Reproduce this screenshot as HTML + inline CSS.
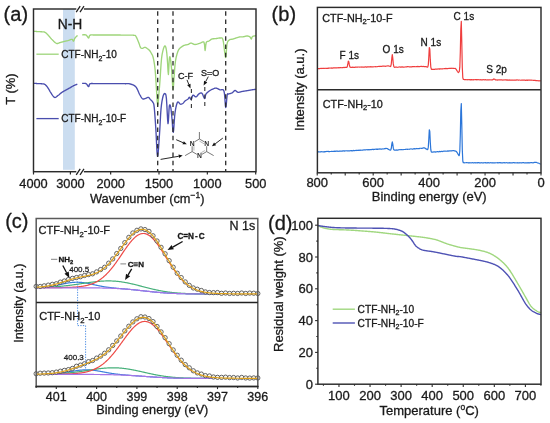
<!DOCTYPE html>
<html><head><meta charset="utf-8"><style>
html,body{margin:0;padding:0;background:#fff;overflow:hidden;}
svg{display:block;will-change:transform;}
text{font-family:"Liberation Sans", sans-serif;stroke:#1a1a1a;stroke-width:0.3px;}
</style></head><body>
<svg width="550" height="423" viewBox="0 0 550 423">
<rect width="550" height="423" fill="#fff"/>
<rect x="63" y="9.0" width="11.8" height="160.8" fill="#cbddf0"/>
<path d="M33.60 31.30 L33.84 31.32 L34.14 31.34 L34.49 31.36 L34.89 31.39 L35.33 31.42 L35.78 31.45 L36.24 31.49 L36.71 31.52 L37.16 31.55 L37.60 31.58 L38.00 31.60 L38.38 31.62 L38.77 31.64 L39.15 31.65 L39.53 31.67 L39.90 31.68 L40.27 31.69 L40.64 31.71 L40.99 31.73 L41.34 31.75 L41.68 31.77 L42.00 31.80 L42.42 31.83 L42.82 31.85 L43.20 31.87 L43.56 31.89 L43.92 31.94 L44.27 32.01 L44.63 32.13 L45.00 32.30 L45.37 32.52 L45.73 32.78 L46.08 33.07 L46.44 33.40 L46.80 33.76 L47.18 34.15 L47.58 34.56 L48.00 35.00 L48.32 35.34 L48.66 35.72 L49.01 36.11 L49.36 36.53 L49.72 36.96 L50.09 37.39 L50.47 37.83 L50.85 38.27 L51.23 38.69 L51.61 39.11 L52.00 39.50 L52.36 39.86 L52.73 40.24 L53.11 40.63 L53.50 41.02 L53.89 41.41 L54.28 41.78 L54.67 42.14 L55.06 42.47 L55.43 42.77 L55.80 43.03 L56.16 43.24 L56.50 43.40 L56.93 43.52 L57.34 43.54 L57.72 43.49 L58.10 43.38 L58.47 43.23 L58.83 43.06 L59.21 42.89 L59.59 42.73 L60.00 42.60 L60.34 42.51 L60.70 42.42 L61.05 42.32 L61.42 42.21 L61.78 42.11 L62.15 42.00 L62.52 41.90 L62.90 41.79 L63.27 41.69 L63.63 41.59 L64.00 41.50 L64.36 41.41 L64.73 41.33 L65.09 41.25 L65.45 41.17 L65.82 41.10 L66.18 41.02 L66.55 40.95 L66.91 40.87 L67.27 40.79 L67.64 40.70 L68.00 40.60 L68.37 40.48 L68.76 40.34 L69.16 40.19 L69.56 40.02 L69.96 39.86 L70.35 39.70 L70.73 39.55 L71.09 39.43 L71.42 39.35 L71.73 39.30 L72.00 39.30 L72.55 39.67 L72.91 40.37 L73.18 41.01 L73.50 41.20 L73.85 40.74 L74.18 39.88 L74.55 38.88 L75.00 38.00 L75.34 37.57 L75.74 37.14 L76.17 36.71 L76.61 36.30 L77.01 35.94 L77.36 35.63 L77.60 35.40" fill="none" stroke="#9ed57a" stroke-width="1.35" stroke-linejoin="round"/>
<path d="M82.10 34.90 L82.34 34.89 L82.65 34.87 L83.02 34.83 L83.44 34.79 L83.89 34.76 L84.35 34.75 L84.80 34.75 L85.24 34.79 L85.65 34.87 L86.00 35.00 L86.45 35.33 L86.87 35.81 L87.27 36.39 L87.64 36.97 L87.98 37.48 L88.30 37.85 L88.60 38.00 L88.95 37.65 L89.15 36.80 L89.42 35.85 L90.00 35.20 L90.25 35.10 L90.52 35.02 L90.81 34.97 L91.11 34.94 L91.43 34.92 L91.78 34.92 L92.15 34.93 L92.55 34.94 L92.97 34.96 L93.43 34.98 L93.92 34.99 L94.44 35.00 L95.00 35.00 L95.30 35.00 L95.61 34.99 L95.93 34.99 L96.26 34.99 L96.61 34.99 L96.97 34.99 L97.33 34.99 L97.71 34.99 L98.09 34.99 L98.48 34.99 L98.88 34.99 L99.28 34.99 L99.69 34.99 L100.10 34.99 L100.51 34.99 L100.93 34.99 L101.34 34.99 L101.76 34.99 L102.18 34.99 L102.59 35.00 L103.00 35.00 L103.41 35.00 L103.82 35.00 L104.22 35.00 L104.61 35.00 L105.00 35.00 L105.38 35.00 L105.77 35.00 L106.15 35.00 L106.54 35.00 L106.92 35.00 L107.31 35.00 L107.69 35.00 L108.08 35.00 L108.46 35.00 L108.85 35.00 L109.23 34.99 L109.62 34.99 L110.00 34.99 L110.38 34.99 L110.77 34.99 L111.15 34.99 L111.54 34.99 L111.92 34.99 L112.31 34.99 L112.69 34.99 L113.08 34.99 L113.46 34.99 L113.85 35.00 L114.23 35.00 L114.62 35.00 L115.00 35.00 L115.39 35.00 L115.77 35.00 L116.16 35.01 L116.55 35.01 L116.94 35.01 L117.33 35.01 L117.72 35.02 L118.11 35.02 L118.50 35.02 L118.89 35.03 L119.28 35.03 L119.67 35.03 L120.06 35.04 L120.45 35.04 L120.84 35.05 L121.23 35.05 L121.61 35.05 L122.00 35.06 L122.38 35.06 L122.76 35.07 L123.14 35.07 L123.52 35.08 L123.89 35.08 L124.26 35.09 L124.63 35.09 L125.00 35.10 L125.42 35.11 L125.84 35.11 L126.28 35.11 L126.71 35.12 L127.15 35.12 L127.60 35.12 L128.04 35.12 L128.48 35.12 L128.92 35.12 L129.36 35.13 L129.79 35.13 L130.21 35.13 L130.63 35.14 L131.03 35.14 L131.43 35.15 L131.81 35.16 L132.18 35.17 L132.53 35.19 L132.86 35.20 L133.18 35.22 L133.47 35.25 L133.75 35.27 L134.00 35.30 L134.73 35.39 L135.16 35.45 L135.39 35.54 L135.54 35.71 L135.71 36.01 L136.00 36.50 L136.36 37.11 L136.74 37.89 L137.15 38.78 L137.56 39.74 L137.97 40.71 L138.35 41.65 L138.70 42.50 L139.13 43.65 L139.51 44.82 L139.87 45.92 L140.23 46.88 L140.60 47.60 L140.93 47.99 L141.28 48.21 L141.63 48.31 L141.97 48.33 L142.30 48.32 L142.60 48.30 L142.99 48.21 L143.33 48.01 L143.66 47.77 L144.00 47.60 L144.36 47.48 L144.71 47.37 L145.09 47.33 L145.50 47.40 L145.81 47.54 L146.13 47.74 L146.47 47.99 L146.82 48.27 L147.17 48.54 L147.50 48.80 L147.89 49.07 L148.27 49.33 L148.64 49.59 L149.02 49.91 L149.40 50.30 L149.78 50.76 L150.16 51.27 L150.53 51.84 L150.91 52.48 L151.30 53.20 L151.63 53.80 L151.96 54.37 L152.30 54.99 L152.64 55.75 L152.97 56.73 L153.30 58.00 L153.70 59.91 L154.10 62.15 L154.49 64.70 L154.86 67.52 L155.20 70.60 L155.57 75.07 L155.89 80.13 L156.20 85.28 L156.50 90.00 L156.91 96.35 L157.31 102.25 L157.70 105.30 L158.07 103.93 L158.43 99.71 L158.80 95.00 L159.20 90.45 L159.61 85.41 L160.00 80.30 L160.35 75.04 L160.67 69.72 L161.00 65.00 L161.30 61.22 L161.60 58.04 L162.00 55.10 L162.33 53.31 L162.71 51.54 L163.12 49.89 L163.52 48.48 L163.90 47.40 L164.33 46.50 L164.74 45.99 L165.13 45.94 L165.50 46.40 L165.86 47.43 L166.19 49.00 L166.51 50.97 L166.80 53.20 L167.14 56.85 L167.43 61.05 L167.70 65.00 L168.05 71.46 L168.40 74.50 L168.68 70.65 L168.99 64.02 L169.30 59.00 L169.61 57.09 L169.93 56.79 L170.30 58.00 L170.62 60.05 L170.98 63.06 L171.35 66.69 L171.70 70.60 L172.04 75.59 L172.37 81.56 L172.70 86.76 L173.00 89.50 L173.34 88.12 L173.64 83.37 L174.00 78.00 L174.31 73.99 L174.63 69.45 L175.01 64.94 L175.50 61.00 L175.79 59.31 L176.10 57.72 L176.44 56.23 L176.80 54.83 L177.18 53.54 L177.57 52.35 L177.98 51.27 L178.40 50.30 L178.75 49.62 L179.14 49.04 L179.53 48.55 L179.95 48.13 L180.36 47.76 L180.78 47.45 L181.19 47.16 L181.58 46.90 L181.95 46.65 L182.30 46.40 L182.75 46.07 L183.15 45.82 L183.53 45.62 L183.88 45.47 L184.24 45.34 L184.61 45.23 L185.00 45.10 L185.36 45.00 L185.73 44.92 L186.10 44.86 L186.48 44.81 L186.86 44.75 L187.24 44.69 L187.62 44.61 L188.00 44.50 L188.37 44.34 L188.73 44.14 L189.08 43.91 L189.44 43.68 L189.80 43.46 L190.18 43.27 L190.58 43.15 L191.00 43.10 L191.32 43.13 L191.65 43.22 L191.99 43.35 L192.34 43.52 L192.69 43.70 L193.06 43.89 L193.43 44.07 L193.81 44.24 L194.20 44.37 L194.60 44.46 L195.00 44.50 L195.35 44.49 L195.72 44.44 L196.11 44.38 L196.50 44.29 L196.90 44.18 L197.30 44.06 L197.70 43.93 L198.10 43.79 L198.50 43.66 L198.89 43.53 L199.28 43.41 L199.65 43.29 L200.00 43.20 L200.41 43.07 L200.83 42.89 L201.24 42.68 L201.65 42.46 L202.05 42.25 L202.43 42.07 L202.80 41.94 L203.15 41.88 L203.46 41.90 L203.75 42.04 L204.00 42.30 L204.58 44.96 L204.84 48.62 L205.10 50.50 L205.40 48.83 L205.71 45.36 L206.20 42.60 L206.47 42.10 L206.78 41.77 L207.12 41.56 L207.48 41.43 L207.86 41.35 L208.25 41.28 L208.63 41.18 L209.00 41.00 L209.36 40.76 L209.71 40.49 L210.07 40.21 L210.43 39.93 L210.79 39.65 L211.17 39.40 L211.58 39.18 L212.00 39.00 L212.33 38.90 L212.66 38.83 L213.01 38.78 L213.37 38.75 L213.74 38.72 L214.11 38.71 L214.49 38.69 L214.87 38.68 L215.25 38.66 L215.63 38.64 L216.00 38.60 L216.38 38.54 L216.77 38.47 L217.17 38.38 L217.57 38.29 L217.97 38.19 L218.37 38.11 L218.77 38.04 L219.15 37.98 L219.52 37.95 L219.87 37.96 L220.20 38.00 L220.62 38.02 L221.00 37.95 L221.36 37.88 L221.70 37.87 L222.03 38.00 L222.35 38.35 L222.67 38.99 L223.00 40.00 L223.39 41.96 L223.79 44.77 L224.19 48.04 L224.58 51.36 L224.95 54.31 L225.29 56.49 L225.60 57.50 L226.02 56.08 L226.32 52.09 L226.62 47.43 L227.00 44.00 L227.30 42.75 L227.61 41.85 L227.95 41.22 L228.32 40.76 L228.73 40.38 L229.20 40.00 L229.50 39.78 L229.82 39.62 L230.14 39.51 L230.48 39.43 L230.84 39.38 L231.22 39.33 L231.63 39.28 L232.05 39.22 L232.51 39.13 L233.00 39.00 L233.33 38.90 L233.69 38.79 L234.06 38.66 L234.46 38.53 L234.87 38.39 L235.29 38.24 L235.72 38.10 L236.16 37.95 L236.59 37.80 L237.02 37.66 L237.44 37.53 L237.85 37.40 L238.24 37.28 L238.62 37.17 L238.97 37.08 L239.30 37.00 L239.77 36.91 L240.20 36.85 L240.58 36.83 L240.94 36.82 L241.28 36.83 L241.60 36.84 L241.93 36.85 L242.26 36.85 L242.62 36.84 L243.00 36.80 L243.37 36.74 L243.77 36.67 L244.17 36.58 L244.59 36.48 L245.00 36.38 L245.42 36.28 L245.83 36.18 L246.23 36.10 L246.61 36.04 L246.97 36.01 L247.30 36.00 L247.78 36.04 L248.23 36.13 L248.64 36.25 L249.02 36.41 L249.38 36.59 L249.70 36.79 L250.00 37.00 L250.43 37.54 L250.74 38.22 L251.01 38.79 L251.30 39.00 L251.62 38.44 L251.93 37.37 L252.50 36.50 L252.81 36.33 L253.19 36.19 L253.63 36.08 L254.09 35.98 L254.56 35.91 L255.01 35.84 L255.41 35.79 L255.75 35.74 L256.00 35.70" fill="none" stroke="#9ed57a" stroke-width="1.35" stroke-linejoin="round"/>
<path d="M33.60 83.30 L33.84 83.32 L34.14 83.34 L34.49 83.36 L34.89 83.39 L35.33 83.42 L35.78 83.45 L36.24 83.49 L36.71 83.52 L37.16 83.55 L37.60 83.58 L38.00 83.60 L38.38 83.62 L38.77 83.64 L39.15 83.65 L39.53 83.66 L39.90 83.67 L40.27 83.68 L40.64 83.69 L40.99 83.71 L41.34 83.73 L41.68 83.76 L42.00 83.80 L42.42 83.84 L42.82 83.87 L43.20 83.90 L43.56 83.94 L43.92 84.01 L44.27 84.12 L44.63 84.28 L45.00 84.50 L45.38 84.79 L45.75 85.14 L46.12 85.54 L46.50 85.98 L46.88 86.45 L47.25 86.95 L47.62 87.47 L48.00 88.00 L48.37 88.56 L48.74 89.16 L49.10 89.79 L49.46 90.44 L49.83 91.10 L50.21 91.76 L50.60 92.39 L51.00 93.00 L51.34 93.49 L51.68 94.02 L52.04 94.56 L52.41 95.11 L52.78 95.63 L53.15 96.12 L53.52 96.56 L53.88 96.93 L54.25 97.22 L54.60 97.40 L54.98 97.47 L55.36 97.43 L55.73 97.28 L56.09 97.06 L56.46 96.78 L56.83 96.46 L57.21 96.13 L57.60 95.80 L58.00 95.50 L58.34 95.25 L58.69 94.99 L59.05 94.70 L59.41 94.39 L59.78 94.08 L60.15 93.77 L60.52 93.45 L60.89 93.14 L61.26 92.84 L61.63 92.56 L62.00 92.30 L62.36 92.06 L62.73 91.83 L63.09 91.61 L63.45 91.39 L63.82 91.19 L64.18 90.99 L64.55 90.79 L64.91 90.60 L65.27 90.40 L65.64 90.20 L66.00 90.00 L66.36 89.80 L66.73 89.60 L67.09 89.40 L67.45 89.20 L67.82 89.00 L68.18 88.80 L68.55 88.60 L68.91 88.40 L69.27 88.20 L69.64 88.00 L70.00 87.80 L70.37 87.59 L70.74 87.37 L71.11 87.15 L71.48 86.93 L71.86 86.70 L72.23 86.48 L72.60 86.27 L72.96 86.06 L73.32 85.86 L73.66 85.67 L74.00 85.50 L74.42 85.30 L74.84 85.12 L75.27 84.94 L75.70 84.78 L76.10 84.63 L76.47 84.50 L76.80 84.38 L77.08 84.28 L77.30 84.20" fill="none" stroke="#4a4eae" stroke-width="1.35" stroke-linejoin="round"/>
<path d="M82.10 83.40 L82.34 83.40 L82.65 83.38 L83.02 83.36 L83.44 83.33 L83.89 83.31 L84.35 83.31 L84.80 83.33 L85.24 83.38 L85.65 83.47 L86.00 83.60 L86.45 83.93 L86.87 84.42 L87.27 84.99 L87.64 85.57 L87.98 86.08 L88.30 86.45 L88.60 86.60 L88.95 86.25 L89.15 85.40 L89.42 84.45 L90.00 83.80 L90.25 83.70 L90.52 83.62 L90.81 83.57 L91.11 83.54 L91.43 83.52 L91.78 83.52 L92.15 83.53 L92.55 83.54 L92.97 83.56 L93.43 83.58 L93.92 83.59 L94.44 83.60 L95.00 83.60 L95.30 83.60 L95.61 83.59 L95.93 83.59 L96.26 83.59 L96.61 83.59 L96.97 83.59 L97.33 83.59 L97.71 83.59 L98.09 83.59 L98.48 83.59 L98.88 83.59 L99.28 83.59 L99.69 83.59 L100.10 83.59 L100.51 83.59 L100.93 83.59 L101.34 83.59 L101.76 83.59 L102.18 83.59 L102.59 83.60 L103.00 83.60 L103.41 83.60 L103.82 83.60 L104.22 83.60 L104.61 83.60 L105.00 83.60 L105.38 83.60 L105.77 83.60 L106.15 83.60 L106.54 83.60 L106.92 83.60 L107.31 83.60 L107.69 83.60 L108.08 83.60 L108.46 83.60 L108.85 83.60 L109.23 83.59 L109.62 83.59 L110.00 83.59 L110.38 83.59 L110.77 83.59 L111.15 83.59 L111.54 83.59 L111.92 83.59 L112.31 83.59 L112.69 83.59 L113.08 83.59 L113.46 83.59 L113.85 83.60 L114.23 83.60 L114.62 83.60 L115.00 83.60 L115.39 83.60 L115.78 83.60 L116.18 83.61 L116.59 83.61 L117.00 83.61 L117.41 83.61 L117.82 83.62 L118.24 83.62 L118.66 83.62 L119.07 83.63 L119.49 83.63 L119.90 83.63 L120.31 83.64 L120.72 83.64 L121.12 83.65 L121.52 83.65 L121.91 83.65 L122.29 83.66 L122.67 83.66 L123.03 83.67 L123.39 83.67 L123.74 83.68 L124.07 83.68 L124.39 83.69 L124.70 83.69 L125.00 83.70 L125.55 83.70 L126.04 83.70 L126.48 83.68 L126.88 83.67 L127.25 83.65 L127.60 83.63 L127.93 83.62 L128.25 83.62 L128.57 83.64 L128.89 83.67 L129.24 83.72 L129.60 83.80 L130.00 83.90 L130.37 84.00 L130.75 84.11 L131.14 84.23 L131.54 84.35 L131.94 84.49 L132.35 84.64 L132.76 84.80 L133.17 84.97 L133.58 85.16 L133.98 85.38 L134.37 85.61 L134.75 85.87 L135.12 86.15 L135.47 86.46 L135.80 86.80 L136.27 87.39 L136.72 88.09 L137.14 88.86 L137.54 89.70 L137.93 90.56 L138.30 91.43 L138.66 92.29 L139.01 93.10 L139.36 93.85 L139.70 94.50 L140.11 95.23 L140.50 95.92 L140.86 96.57 L141.21 97.16 L141.56 97.68 L141.90 98.14 L142.24 98.51 L142.60 98.80 L142.96 98.98 L143.32 99.04 L143.69 99.02 L144.05 98.93 L144.41 98.80 L144.78 98.65 L145.14 98.51 L145.50 98.40 L145.87 98.28 L146.25 98.12 L146.63 97.94 L147.01 97.75 L147.39 97.58 L147.75 97.45 L148.09 97.39 L148.40 97.40 L148.83 97.59 L149.20 97.94 L149.54 98.39 L149.89 98.89 L150.30 99.40 L150.65 99.75 L151.03 100.11 L151.43 100.48 L151.84 100.88 L152.23 101.31 L152.59 101.78 L152.90 102.30 L153.31 102.98 L153.61 103.55 L153.88 104.70 L154.20 107.10 L154.50 110.20 L154.81 114.12 L155.14 118.61 L155.47 123.45 L155.80 128.40 L156.13 134.36 L156.46 141.48 L156.79 148.42 L157.14 153.81 L157.50 156.30 L157.82 155.56 L158.16 152.78 L158.51 148.62 L158.86 143.72 L159.19 138.73 L159.50 134.30 L159.90 127.93 L160.25 121.11 L160.60 114.59 L161.00 109.10 L161.31 106.16 L161.63 103.61 L161.97 101.41 L162.32 99.51 L162.67 97.89 L163.00 96.50 L163.39 95.18 L163.79 94.27 L164.17 93.74 L164.55 93.53 L164.90 93.60 L165.30 93.78 L165.67 94.24 L166.03 95.59 L166.40 98.40 L166.80 104.26 L167.21 112.39 L167.62 119.82 L168.00 123.60 L168.34 121.82 L168.66 116.42 L168.98 110.26 L169.30 106.20 L169.65 104.89 L170.00 104.83 L170.35 105.69 L170.70 107.10 L171.03 109.22 L171.36 112.16 L171.68 115.50 L172.00 118.80 L172.32 122.82 L172.63 127.49 L172.95 131.20 L173.30 132.30 L173.60 130.38 L173.91 126.49 L174.24 121.61 L174.60 116.74 L175.00 112.90 L175.31 110.81 L175.64 108.87 L175.99 107.09 L176.36 105.51 L176.73 104.16 L177.11 103.08 L177.50 102.30 L177.85 101.96 L178.20 101.96 L178.57 102.22 L178.94 102.64 L179.32 103.14 L179.69 103.63 L180.05 104.01 L180.40 104.20 L180.79 104.23 L181.18 104.19 L181.57 104.08 L181.94 103.93 L182.31 103.74 L182.66 103.53 L183.00 103.30 L183.36 102.99 L183.67 102.63 L183.97 102.22 L184.28 101.80 L184.62 101.38 L185.00 101.00 L185.34 100.73 L185.71 100.47 L186.12 100.21 L186.53 99.96 L186.94 99.71 L187.33 99.47 L187.69 99.23 L188.00 99.00 L188.48 98.46 L188.83 97.89 L189.15 97.44 L189.50 97.30 L189.83 97.59 L190.16 98.21 L190.50 98.90 L190.85 99.41 L191.20 99.50 L191.53 98.96 L191.86 97.96 L192.19 96.80 L192.56 95.78 L193.00 95.20 L193.32 95.16 L193.67 95.32 L194.04 95.61 L194.43 95.98 L194.82 96.35 L195.22 96.67 L195.62 96.88 L196.00 96.90 L196.38 96.72 L196.75 96.40 L197.12 95.97 L197.50 95.49 L197.88 94.98 L198.25 94.50 L198.62 94.10 L199.00 93.80 L199.38 93.57 L199.76 93.36 L200.14 93.17 L200.53 93.03 L200.90 92.96 L201.28 92.96 L201.64 93.07 L202.00 93.30 L202.40 93.83 L202.81 94.65 L203.21 95.64 L203.59 96.65 L203.96 97.56 L204.30 98.22 L204.60 98.50 L204.97 98.03 L205.21 96.79 L205.50 95.28 L206.00 94.00 L206.27 93.64 L206.58 93.28 L206.93 92.92 L207.31 92.57 L207.70 92.23 L208.10 91.90 L208.51 91.58 L208.91 91.28 L209.30 91.00 L209.66 90.74 L210.00 90.50 L210.42 90.21 L210.82 89.97 L211.20 89.76 L211.56 89.59 L211.92 89.43 L212.27 89.29 L212.63 89.15 L213.00 89.00 L213.37 88.84 L213.73 88.67 L214.08 88.50 L214.44 88.35 L214.80 88.22 L215.18 88.13 L215.58 88.08 L216.00 88.10 L216.33 88.16 L216.67 88.25 L217.02 88.38 L217.38 88.54 L217.75 88.71 L218.13 88.90 L218.50 89.09 L218.88 89.29 L219.26 89.47 L219.63 89.65 L220.00 89.80 L220.37 89.88 L220.76 89.87 L221.15 89.80 L221.55 89.70 L221.95 89.62 L222.34 89.57 L222.71 89.61 L223.07 89.75 L223.41 90.04 L223.72 90.51 L224.00 91.20 L224.49 93.97 L224.86 98.03 L225.14 102.34 L225.41 105.84 L225.70 107.50 L226.09 106.13 L226.47 102.33 L226.84 97.99 L227.20 95.00 L227.49 93.94 L227.72 93.79 L228.02 93.99 L228.50 94.00 L228.80 93.89 L229.14 93.79 L229.52 93.69 L229.93 93.59 L230.36 93.48 L230.79 93.37 L231.21 93.23 L231.62 93.08 L232.00 92.90 L232.40 92.63 L232.79 92.29 L233.16 91.91 L233.53 91.52 L233.90 91.15 L234.26 90.84 L234.63 90.61 L235.00 90.50 L235.37 90.54 L235.73 90.72 L236.08 90.98 L236.44 91.30 L236.80 91.63 L237.18 91.93 L237.58 92.17 L238.00 92.30 L238.32 92.32 L238.65 92.31 L238.99 92.27 L239.34 92.20 L239.69 92.11 L240.06 92.01 L240.43 91.90 L240.81 91.79 L241.20 91.68 L241.60 91.58 L242.00 91.50 L242.35 91.44 L242.71 91.38 L243.09 91.32 L243.46 91.26 L243.85 91.20 L244.24 91.14 L244.63 91.08 L245.03 91.01 L245.43 90.95 L245.83 90.89 L246.22 90.83 L246.61 90.76 L247.00 90.70 L247.39 90.63 L247.78 90.56 L248.17 90.49 L248.57 90.42 L248.97 90.34 L249.37 90.27 L249.76 90.19 L250.15 90.12 L250.54 90.05 L250.91 89.98 L251.29 89.92 L251.65 89.86 L252.00 89.80 L252.42 89.74 L252.84 89.68 L253.27 89.62 L253.70 89.57 L254.11 89.52 L254.51 89.47 L254.88 89.43 L255.22 89.39 L255.53 89.36 L255.79 89.33 L256.00 89.30" fill="none" stroke="#4a4eae" stroke-width="1.35" stroke-linejoin="round"/>
<line x1="157.7" y1="11.3" x2="157.7" y2="171.7" stroke="#2a2a2a" stroke-width="1.3" stroke-dasharray="4.5 3.8"/>
<line x1="173.0" y1="11.3" x2="173.0" y2="171.7" stroke="#2a2a2a" stroke-width="1.3" stroke-dasharray="4.5 3.8"/>
<line x1="225.7" y1="11.3" x2="225.7" y2="171.7" stroke="#2a2a2a" stroke-width="1.3" stroke-dasharray="4.5 3.8"/>
<line x1="191.4" y1="89" x2="191.4" y2="109" stroke="#333" stroke-width="1.1" stroke-dasharray="4 3.5"/>
<line x1="204.8" y1="87" x2="204.8" y2="108" stroke="#333" stroke-width="1.1" stroke-dasharray="4 3.5"/>
<line x1="36.4" y1="54.2" x2="58.7" y2="54.2" stroke="#9ed57a" stroke-width="1.3"/>
<line x1="36.4" y1="118.6" x2="58.7" y2="118.6" stroke="#4a4eae" stroke-width="1.3"/>
<text x="61.2" y="58.3" font-size="10.0" fill="#1a1a1a">CTF-NH<tspan font-size="7.0" dy="2.20">2</tspan><tspan dy="-2.20">-10</tspan></text>
<text x="61.2" y="122.4" font-size="10.0" fill="#1a1a1a">CTF-NH<tspan font-size="7.0" dy="2.20">2</tspan><tspan dy="-2.20">-10-F</tspan></text>
<text x="57.8" y="29.4" font-size="13.8" text-anchor="start" fill="#1a1a1a" >N-H</text>
<text x="177.9" y="78.7" font-size="9" text-anchor="start" fill="#1a1a1a" >C-F</text>
<text x="200.9" y="75.9" font-size="9" text-anchor="start" fill="#1a1a1a" >S=O</text>
<line x1="187.00" y1="79.90" x2="188.82" y2="84.43" stroke="#111" stroke-width="0.9"/>
<polygon points="190.50,88.60 187.15,85.10 190.49,83.75" fill="#111"/>
<line x1="208.30" y1="76.60" x2="205.68" y2="81.61" stroke="#111" stroke-width="0.9"/>
<polygon points="203.60,85.60 204.09,80.78 207.28,82.44" fill="#111"/>
<polygon points="199.40,139.00 206.67,143.20 206.67,151.60 199.40,155.80 192.13,151.60 192.13,143.20" fill="none" stroke="#555" stroke-width="0.8"/>
<line x1="199.40" y1="141.10" x2="204.86" y2="144.25" stroke="#999" stroke-width="0.7"/>
<line x1="204.86" y1="150.55" x2="199.40" y2="153.70" stroke="#999" stroke-width="0.7"/>
<line x1="193.94" y1="150.55" x2="193.94" y2="144.25" stroke="#999" stroke-width="0.7"/>
<line x1="199.40" y1="139.00" x2="199.40" y2="132.00" stroke="#555" stroke-width="0.8"/>
<line x1="192.13" y1="151.60" x2="185.13" y2="155.60" stroke="#555" stroke-width="0.8"/>
<line x1="206.67" y1="151.60" x2="213.67" y2="155.60" stroke="#555" stroke-width="0.8"/>
<rect x="204.07" y="140.20" width="5.2" height="6" fill="#fff"/>
<text x="206.67" y="145.60" font-size="6.8" font-weight="bold" text-anchor="middle" fill="#2a2a2a" style="stroke:none">N</text>
<rect x="196.80" y="152.80" width="5.2" height="6" fill="#fff"/>
<text x="199.40" y="158.20" font-size="6.8" font-weight="bold" text-anchor="middle" fill="#2a2a2a" style="stroke:none">N</text>
<rect x="189.53" y="140.20" width="5.2" height="6" fill="#fff"/>
<text x="192.13" y="145.60" font-size="6.8" font-weight="bold" text-anchor="middle" fill="#2a2a2a" style="stroke:none">N</text>
<line x1="176.20" y1="139.70" x2="183.13" y2="142.71" stroke="#111" stroke-width="0.9"/>
<polygon points="186.80,144.30 182.45,144.27 183.81,141.15" fill="#111"/>
<line x1="222.80" y1="138.10" x2="215.10" y2="143.90" stroke="#111" stroke-width="0.9"/>
<polygon points="211.90,146.30 214.07,142.54 216.12,145.25" fill="#111"/>
<line x1="160.60" y1="159.40" x2="178.76" y2="156.28" stroke="#111" stroke-width="0.9"/>
<polygon points="182.70,155.60 179.05,157.95 178.47,154.60" fill="#111"/>
<rect x="33.5" y="9.0" width="222.5" height="162.7" fill="none" stroke="#2b2b2b" stroke-width="1.45"/>
<rect x="76.3" y="7.4" width="7.6" height="3.2" fill="#fff"/>
<line x1="76.2" y1="12.1" x2="80.2" y2="6.1" stroke="#1e1e1e" stroke-width="1.25"/>
<line x1="80.0" y1="12.1" x2="84.0" y2="6.1" stroke="#1e1e1e" stroke-width="1.25"/>
<rect x="76.3" y="170.1" width="7.6" height="3.2" fill="#fff"/>
<line x1="76.2" y1="174.79999999999998" x2="80.2" y2="168.79999999999998" stroke="#1e1e1e" stroke-width="1.25"/>
<line x1="80.0" y1="174.79999999999998" x2="84.0" y2="168.79999999999998" stroke="#1e1e1e" stroke-width="1.25"/>
<line x1="33.50" y1="171.7" x2="33.50" y2="174.5" stroke="#2b2b2b" stroke-width="1.2"/>
<line x1="70.40" y1="171.7" x2="70.40" y2="174.5" stroke="#2b2b2b" stroke-width="1.2"/>
<line x1="110.65" y1="171.7" x2="110.65" y2="174.5" stroke="#2b2b2b" stroke-width="1.2"/>
<line x1="159.00" y1="171.7" x2="159.00" y2="174.5" stroke="#2b2b2b" stroke-width="1.2"/>
<line x1="207.35" y1="171.7" x2="207.35" y2="174.5" stroke="#2b2b2b" stroke-width="1.2"/>
<line x1="255.70" y1="171.7" x2="255.70" y2="174.5" stroke="#2b2b2b" stroke-width="1.2"/>
<text x="33.5" y="187.6" font-size="12.8" text-anchor="middle" fill="#1a1a1a" >4000</text>
<text x="70.4" y="187.6" font-size="12.8" text-anchor="middle" fill="#1a1a1a" >3000</text>
<text x="110.65" y="187.6" font-size="12.8" text-anchor="middle" fill="#1a1a1a" >2000</text>
<text x="159.0" y="187.6" font-size="12.8" text-anchor="middle" fill="#1a1a1a" >1500</text>
<text x="207.35" y="187.6" font-size="12.8" text-anchor="middle" fill="#1a1a1a" >1000</text>
<text x="255.7" y="187.6" font-size="12.8" text-anchor="middle" fill="#1a1a1a" >500</text>
<text x="90.0" y="202.9" font-size="12.8" text-anchor="start" fill="#1a1a1a" >Wavenumber (cm<tspan font-size="8.5" dy="-5">−1</tspan><tspan dy="5">)</tspan></text>
<text transform="translate(15.3 89.1) rotate(-90)" x="0" y="0" font-size="13" text-anchor="middle" fill="#1a1a1a">T (%)</text>
<text x="3.6" y="20.6" font-size="20" text-anchor="start" fill="#1a1a1a" >(a)</text>
<path d="M317.80 68.62 L318.30 68.54 L318.80 68.69 L319.30 68.47 L319.80 68.61 L320.30 68.53 L320.80 68.39 L321.30 68.53 L321.80 68.34 L322.30 68.46 L322.80 68.31 L323.30 68.29 L323.80 68.39 L324.30 68.50 L324.80 68.24 L325.30 68.25 L325.80 68.37 L326.30 68.46 L326.80 68.30 L327.30 68.22 L327.80 68.40 L328.30 68.05 L328.80 68.31 L329.30 68.09 L329.80 68.01 L330.30 67.98 L330.80 68.03 L331.30 68.18 L331.80 67.94 L332.30 68.05 L332.80 68.05 L333.30 67.93 L333.80 67.97 L334.30 67.78 L334.80 67.76 L335.30 67.79 L335.80 67.93 L336.30 67.82 L336.80 67.75 L337.30 67.83 L337.80 67.76 L338.30 67.68 L338.80 67.83 L339.30 67.78 L339.80 67.59 L340.30 67.69 L340.80 67.65 L341.30 67.75 L341.80 67.67 L342.30 67.49 L342.80 67.71 L343.30 67.39 L343.80 67.47 L344.30 67.57 L344.80 67.33 L345.30 67.43 L345.80 67.25 L346.30 67.44 L346.80 67.36 L347.30 66.53 L347.80 64.23 L348.30 61.19 L348.80 61.72 L349.30 64.71 L349.80 66.73 L350.30 67.22 L350.80 67.41 L351.30 67.45 L351.80 67.27 L352.30 67.33 L352.80 67.10 L353.30 67.32 L353.80 67.29 L354.30 67.40 L354.80 67.33 L355.30 67.13 L355.80 67.16 L356.30 67.24 L356.80 67.01 L357.30 67.15 L357.80 67.04 L358.30 67.01 L358.80 66.98 L359.30 67.22 L359.80 66.98 L360.30 67.01 L360.80 67.05 L361.30 67.21 L361.80 66.92 L362.30 67.04 L362.80 67.07 L363.30 67.17 L363.80 67.14 L364.30 67.15 L364.80 66.93 L365.30 66.97 L365.80 66.94 L366.30 67.11 L366.80 67.13 L367.30 66.83 L367.80 66.83 L368.30 66.84 L368.80 66.83 L369.30 66.91 L369.80 66.94 L370.30 66.80 L370.80 66.69 L371.30 66.81 L371.80 66.78 L372.30 66.82 L372.80 66.94 L373.30 66.82 L373.80 66.74 L374.30 66.75 L374.80 66.75 L375.30 66.51 L375.80 66.79 L376.30 66.72 L376.80 66.73 L377.30 66.68 L377.80 66.52 L378.30 66.50 L378.80 66.38 L379.30 66.54 L379.80 66.32 L380.30 66.30 L380.80 66.33 L381.30 66.29 L381.80 66.33 L382.30 66.21 L382.80 66.17 L383.30 66.20 L383.80 66.16 L384.30 66.23 L384.80 66.09 L385.30 66.36 L385.80 66.25 L386.30 66.04 L386.80 66.01 L387.30 65.97 L387.80 65.91 L388.30 65.76 L388.80 65.95 L389.30 66.15 L389.80 66.27 L390.30 66.53 L390.80 66.19 L391.30 63.77 L391.80 58.18 L392.30 54.52 L392.80 58.40 L393.30 63.90 L393.80 66.45 L394.30 67.30 L394.80 67.20 L395.30 67.05 L395.80 67.18 L396.30 66.98 L396.80 67.15 L397.30 67.29 L397.80 67.23 L398.30 67.16 L398.80 67.00 L399.30 67.02 L399.80 66.93 L400.30 67.13 L400.80 67.03 L401.30 67.11 L401.80 66.94 L402.30 66.88 L402.80 67.08 L403.30 67.12 L403.80 67.06 L404.30 67.03 L404.80 67.02 L405.30 66.98 L405.80 66.79 L406.30 66.87 L406.80 66.80 L407.30 66.68 L407.80 66.66 L408.30 66.74 L408.80 66.71 L409.30 66.85 L409.80 66.93 L410.30 66.74 L410.80 66.90 L411.30 66.90 L411.80 66.87 L412.30 66.65 L412.80 66.59 L413.30 66.58 L413.80 66.55 L414.30 66.54 L414.80 66.67 L415.30 66.76 L415.80 66.72 L416.30 66.58 L416.80 66.63 L417.30 66.66 L417.80 66.40 L418.30 66.59 L418.80 66.66 L419.30 66.60 L419.80 66.58 L420.30 66.47 L420.80 66.35 L421.30 66.55 L421.80 66.38 L422.30 66.52 L422.80 66.57 L423.30 66.40 L423.80 66.47 L424.30 66.72 L424.80 66.70 L425.30 66.57 L425.80 66.62 L426.30 66.69 L426.80 67.02 L427.30 67.17 L427.80 66.88 L428.30 64.84 L428.80 57.02 L429.30 47.52 L429.80 49.13 L430.30 59.91 L430.80 67.04 L431.30 68.97 L431.80 69.51 L432.30 69.38 L432.80 69.32 L433.30 69.43 L433.80 69.23 L434.30 69.36 L434.80 69.32 L435.30 69.07 L435.80 69.06 L436.30 69.05 L436.80 69.01 L437.30 69.10 L437.80 68.96 L438.30 68.99 L438.80 68.86 L439.30 69.11 L439.80 68.89 L440.30 68.90 L440.80 68.92 L441.30 69.00 L441.80 68.81 L442.30 68.95 L442.80 68.78 L443.30 68.77 L443.80 68.74 L444.30 68.53 L444.80 68.66 L445.30 68.54 L445.80 68.45 L446.30 68.70 L446.80 68.46 L447.30 68.54 L447.80 68.60 L448.30 68.51 L448.80 68.41 L449.30 68.45 L449.80 68.43 L450.30 68.49 L450.80 68.22 L451.30 68.36 L451.80 68.22 L452.30 68.23 L452.80 68.42 L453.30 68.34 L453.80 68.37 L454.30 68.46 L454.80 68.52 L455.30 68.37 L455.80 68.91 L456.30 69.65 L456.80 70.43 L457.30 71.27 L457.80 71.96 L458.30 72.53 L458.80 72.08 L459.30 71.38 L459.80 67.16 L460.30 52.63 L460.80 29.38 L461.30 21.47 L461.80 42.89 L462.30 67.47 L462.80 77.79 L463.30 79.31 L463.80 79.47 L464.30 79.60 L464.80 79.47 L465.30 79.54 L465.80 79.48 L466.30 79.70 L466.80 79.74 L467.30 79.79 L467.80 79.53 L468.30 79.74 L468.80 79.72 L469.30 79.55 L469.80 79.81 L470.30 79.85 L470.80 79.59 L471.30 79.85 L471.80 79.66 L472.30 79.70 L472.80 79.88 L473.30 79.83 L473.80 79.60 L474.30 79.70 L474.80 79.74 L475.30 79.68 L475.80 79.63 L476.30 79.68 L476.80 79.83 L477.30 79.59 L477.80 79.78 L478.30 79.75 L478.80 79.60 L479.30 79.72 L479.80 79.83 L480.30 79.79 L480.80 79.64 L481.30 79.97 L481.80 79.91 L482.30 79.98 L482.80 79.68 L483.30 79.74 L483.80 79.67 L484.30 79.93 L484.80 79.76 L485.30 79.71 L485.80 79.82 L486.30 80.00 L486.80 79.97 L487.30 79.78 L487.80 79.75 L488.30 80.02 L488.80 79.90 L489.30 79.96 L489.80 79.75 L490.30 79.74 L490.80 79.97 L491.30 79.88 L491.80 79.74 L492.30 79.97 L492.80 79.67 L493.30 79.40 L493.80 78.88 L494.30 79.19 L494.80 79.23 L495.30 79.83 L495.80 79.86 L496.30 79.89 L496.80 79.98 L497.30 80.12 L497.80 79.90 L498.30 79.85 L498.80 80.00 L499.30 79.90 L499.80 79.86 L500.30 79.88 L500.80 79.85 L501.30 79.90 L501.80 79.95 L502.30 79.95 L502.80 80.11 L503.30 79.95 L503.80 80.03 L504.30 79.92 L504.80 79.98 L505.30 79.87 L505.80 79.95 L506.30 79.87 L506.80 80.13 L507.30 80.07 L507.80 79.94 L508.30 80.05 L508.80 80.21 L509.30 79.92 L509.80 80.18 L510.30 80.04 L510.80 80.07 L511.30 80.19 L511.80 80.04 L512.30 80.08 L512.80 80.15 L513.30 80.26 L513.80 80.04 L514.30 80.21 L514.80 80.17 L515.30 80.15 L515.80 80.07 L516.30 80.06 L516.80 79.96 L517.30 79.99 L517.80 79.97 L518.30 80.21 L518.80 80.04 L519.30 80.01 L519.80 79.99 L520.30 80.25 L520.80 80.27 L521.30 80.20 L521.80 80.07 L522.30 80.06 L522.80 80.08 L523.30 80.14 L523.80 80.04 L524.30 80.14 L524.80 80.08 L525.30 80.33 L525.80 80.34 L526.30 80.19 L526.80 80.09 L527.30 80.34 L527.80 80.12 L528.30 80.14 L528.80 80.02 L529.30 80.15 L529.80 80.19 L530.30 80.22 L530.80 80.15 L531.30 80.28 L531.80 80.14 L532.30 80.26 L532.80 80.23 L533.30 80.37 L533.80 80.28 L534.30 80.31 L534.80 80.44 L535.30 80.44 L535.80 80.60 L536.30 80.61 L536.80 80.72 L537.30 80.72 L537.80 80.77 L538.30 80.86 L538.80 80.72 L539.30 80.73 L539.80 80.99 L540.30 80.73 L540.80 80.97" fill="none" stroke="#ef3e3e" stroke-width="1.2" stroke-linejoin="round"/>
<path d="M317.80 151.94 L318.30 151.71 L318.80 151.97 L319.30 151.98 L319.80 151.87 L320.30 151.89 L320.80 151.90 L321.30 151.65 L321.80 151.76 L322.30 151.74 L322.80 151.84 L323.30 151.81 L323.80 151.80 L324.30 151.70 L324.80 151.79 L325.30 151.70 L325.80 151.69 L326.30 151.51 L326.80 151.42 L327.30 151.44 L327.80 151.50 L328.30 151.40 L328.80 151.64 L329.30 151.52 L329.80 151.53 L330.30 151.51 L330.80 151.51 L331.30 151.43 L331.80 151.24 L332.30 151.50 L332.80 151.47 L333.30 151.37 L333.80 151.36 L334.30 151.39 L334.80 151.16 L335.30 151.38 L335.80 151.19 L336.30 151.11 L336.80 151.16 L337.30 151.31 L337.80 151.11 L338.30 151.28 L338.80 151.35 L339.30 151.16 L339.80 151.10 L340.30 151.12 L340.80 151.18 L341.30 151.19 L341.80 151.12 L342.30 151.11 L342.80 150.90 L343.30 150.90 L343.80 150.92 L344.30 151.08 L344.80 150.91 L345.30 150.98 L345.80 150.77 L346.30 150.77 L346.80 150.83 L347.30 150.95 L347.80 150.94 L348.30 150.92 L348.80 150.77 L349.30 150.83 L349.80 150.79 L350.30 150.77 L350.80 150.62 L351.30 150.86 L351.80 150.59 L352.30 150.83 L352.80 150.79 L353.30 150.44 L353.80 150.56 L354.30 150.66 L354.80 150.68 L355.30 150.47 L355.80 150.38 L356.30 150.33 L356.80 150.56 L357.30 150.27 L357.80 150.37 L358.30 150.19 L358.80 150.29 L359.30 150.41 L359.80 150.09 L360.30 150.31 L360.80 150.17 L361.30 150.27 L361.80 150.18 L362.30 149.98 L362.80 150.19 L363.30 150.01 L363.80 149.82 L364.30 149.79 L364.80 149.93 L365.30 149.88 L365.80 149.80 L366.30 149.72 L366.80 149.76 L367.30 149.72 L367.80 149.87 L368.30 149.55 L368.80 149.78 L369.30 149.78 L369.80 149.50 L370.30 149.76 L370.80 149.65 L371.30 149.69 L371.80 149.44 L372.30 149.44 L372.80 149.42 L373.30 149.60 L373.80 149.43 L374.30 149.32 L374.80 149.32 L375.30 149.23 L375.80 149.12 L376.30 149.11 L376.80 149.34 L377.30 149.12 L377.80 149.32 L378.30 149.05 L378.80 149.02 L379.30 149.08 L379.80 148.94 L380.30 148.97 L380.80 149.15 L381.30 149.09 L381.80 149.04 L382.30 148.95 L382.80 149.02 L383.30 149.00 L383.80 148.83 L384.30 148.82 L384.80 148.48 L385.30 148.62 L385.80 148.42 L386.30 148.43 L386.80 148.51 L387.30 148.66 L387.80 148.85 L388.30 149.43 L388.80 149.42 L389.30 149.81 L389.80 150.04 L390.30 150.10 L390.80 149.91 L391.30 148.27 L391.80 144.18 L392.30 141.85 L392.80 144.19 L393.30 148.13 L393.80 149.79 L394.30 150.05 L394.80 150.06 L395.30 150.04 L395.80 150.25 L396.30 150.07 L396.80 149.94 L397.30 150.15 L397.80 150.14 L398.30 149.92 L398.80 149.77 L399.30 149.76 L399.80 149.69 L400.30 149.74 L400.80 149.62 L401.30 149.63 L401.80 149.61 L402.30 149.68 L402.80 149.76 L403.30 149.67 L403.80 149.52 L404.30 149.49 L404.80 149.49 L405.30 149.40 L405.80 149.35 L406.30 149.22 L406.80 149.26 L407.30 149.47 L407.80 149.14 L408.30 149.24 L408.80 149.25 L409.30 149.29 L409.80 149.03 L410.30 149.02 L410.80 148.97 L411.30 148.99 L411.80 148.97 L412.30 149.12 L412.80 149.04 L413.30 149.02 L413.80 148.68 L414.30 148.65 L414.80 148.86 L415.30 148.89 L415.80 148.70 L416.30 148.71 L416.80 148.47 L417.30 148.57 L417.80 148.72 L418.30 148.65 L418.80 148.63 L419.30 148.63 L419.80 148.34 L420.30 148.26 L420.80 148.24 L421.30 148.34 L421.80 148.34 L422.30 148.30 L422.80 148.09 L423.30 147.93 L423.80 147.84 L424.30 147.86 L424.80 148.17 L425.30 148.28 L425.80 148.82 L426.30 148.91 L426.80 149.43 L427.30 149.63 L427.80 149.48 L428.30 147.13 L428.80 139.16 L429.30 129.73 L429.80 131.53 L430.30 142.30 L430.80 149.75 L431.30 151.94 L431.80 152.16 L432.30 152.07 L432.80 151.98 L433.30 152.08 L433.80 151.83 L434.30 151.90 L434.80 151.92 L435.30 152.06 L435.80 151.92 L436.30 151.97 L436.80 151.79 L437.30 151.67 L437.80 151.64 L438.30 151.85 L438.80 151.73 L439.30 151.56 L439.80 151.42 L440.30 151.55 L440.80 151.58 L441.30 151.46 L441.80 151.36 L442.30 151.47 L442.80 151.53 L443.30 151.25 L443.80 151.15 L444.30 151.22 L444.80 151.21 L445.30 151.27 L445.80 151.06 L446.30 151.24 L446.80 151.18 L447.30 151.07 L447.80 150.93 L448.30 151.16 L448.80 150.90 L449.30 151.04 L449.80 150.80 L450.30 150.76 L450.80 150.91 L451.30 150.72 L451.80 150.91 L452.30 150.72 L452.80 150.57 L453.30 150.55 L453.80 150.58 L454.30 150.77 L454.80 151.05 L455.30 150.94 L455.80 151.21 L456.30 151.33 L456.80 152.21 L457.30 152.82 L457.80 153.69 L458.30 154.60 L458.80 155.59 L459.30 155.53 L459.80 150.98 L460.30 135.39 L460.80 111.11 L461.30 103.56 L461.80 125.02 L462.30 149.80 L462.80 161.00 L463.30 162.71 L463.80 162.63 L464.30 162.86 L464.80 162.76 L465.30 162.76 L465.80 162.74 L466.30 162.68 L466.80 162.63 L467.30 162.72 L467.80 162.75 L468.30 162.96 L468.80 162.67 L469.30 162.96 L469.80 162.70 L470.30 162.75 L470.80 162.91 L471.30 162.91 L471.80 162.78 L472.30 162.64 L472.80 162.79 L473.30 162.76 L473.80 162.95 L474.30 162.69 L474.80 162.75 L475.30 162.94 L475.80 162.64 L476.30 162.77 L476.80 162.91 L477.30 162.89 L477.80 162.64 L478.30 162.64 L478.80 162.65 L479.30 162.95 L479.80 162.71 L480.30 162.89 L480.80 162.94 L481.30 162.74 L481.80 162.72 L482.30 162.96 L482.80 162.84 L483.30 162.72 L483.80 162.88 L484.30 162.74 L484.80 162.72 L485.30 162.63 L485.80 162.89 L486.30 162.95 L486.80 162.85 L487.30 162.96 L487.80 162.63 L488.30 162.71 L488.80 162.79 L489.30 162.96 L489.80 162.96 L490.30 162.76 L490.80 162.71 L491.30 162.78 L491.80 162.80 L492.30 162.95 L492.80 162.69 L493.30 162.91 L493.80 162.88 L494.30 162.91 L494.80 162.90 L495.30 162.84 L495.80 162.74 L496.30 162.74 L496.80 162.75 L497.30 162.90 L497.80 162.65 L498.30 162.69 L498.80 162.89 L499.30 162.71 L499.80 162.65 L500.30 162.64 L500.80 162.82 L501.30 162.74 L501.80 162.97 L502.30 162.93 L502.80 162.97 L503.30 162.72 L503.80 162.65 L504.30 162.66 L504.80 162.80 L505.30 162.87 L505.80 162.78 L506.30 162.71 L506.80 162.77 L507.30 162.84 L507.80 162.86 L508.30 162.89 L508.80 162.92 L509.30 162.86 L509.80 162.67 L510.30 162.92 L510.80 162.73 L511.30 162.82 L511.80 162.76 L512.30 162.88 L512.80 162.69 L513.30 162.71 L513.80 162.71 L514.30 162.68 L514.80 162.93 L515.30 162.83 L515.80 162.74 L516.30 162.76 L516.80 162.97 L517.30 162.80 L517.80 162.71 L518.30 162.91 L518.80 162.85 L519.30 162.97 L519.80 162.66 L520.30 162.79 L520.80 162.91 L521.30 162.92 L521.80 162.95 L522.30 162.64 L522.80 162.73 L523.30 162.67 L523.80 162.69 L524.30 162.97 L524.80 162.83 L525.30 162.95 L525.80 162.76 L526.30 162.93 L526.80 162.78 L527.30 162.72 L527.80 162.90 L528.30 162.96 L528.80 162.66 L529.30 162.83 L529.80 162.84 L530.30 162.70 L530.80 162.75 L531.30 162.67 L531.80 162.70 L532.30 162.71 L532.80 162.83 L533.30 162.80 L533.80 162.56 L534.30 162.41 L534.80 162.44 L535.30 162.48 L535.80 162.22 L536.30 162.35 L536.80 162.50 L537.30 162.90 L537.80 163.00 L538.30 163.02 L538.80 163.22 L539.30 163.52 L539.80 163.76 L540.30 163.98 L540.80 163.98" fill="none" stroke="#2c76d9" stroke-width="1.2" stroke-linejoin="round"/>
<rect x="317.4" y="7.4" width="223.60000000000002" height="165.4" fill="none" stroke="#2b2b2b" stroke-width="1.45"/>
<line x1="317.4" y1="89.8" x2="541.0" y2="89.8" stroke="#2b2b2b" stroke-width="1.45"/>
<line x1="541.00" y1="172.8" x2="541.00" y2="175.60000000000002" stroke="#2b2b2b" stroke-width="1.1"/>
<line x1="527.01" y1="172.8" x2="527.01" y2="174.4" stroke="#2b2b2b" stroke-width="1.1"/>
<line x1="513.03" y1="172.8" x2="513.03" y2="175.60000000000002" stroke="#2b2b2b" stroke-width="1.1"/>
<line x1="499.05" y1="172.8" x2="499.05" y2="174.4" stroke="#2b2b2b" stroke-width="1.1"/>
<line x1="485.06" y1="172.8" x2="485.06" y2="175.60000000000002" stroke="#2b2b2b" stroke-width="1.1"/>
<line x1="471.07" y1="172.8" x2="471.07" y2="174.4" stroke="#2b2b2b" stroke-width="1.1"/>
<line x1="457.09" y1="172.8" x2="457.09" y2="175.60000000000002" stroke="#2b2b2b" stroke-width="1.1"/>
<line x1="443.11" y1="172.8" x2="443.11" y2="174.4" stroke="#2b2b2b" stroke-width="1.1"/>
<line x1="429.12" y1="172.8" x2="429.12" y2="175.60000000000002" stroke="#2b2b2b" stroke-width="1.1"/>
<line x1="415.13" y1="172.8" x2="415.13" y2="174.4" stroke="#2b2b2b" stroke-width="1.1"/>
<line x1="401.15" y1="172.8" x2="401.15" y2="175.60000000000002" stroke="#2b2b2b" stroke-width="1.1"/>
<line x1="387.16" y1="172.8" x2="387.16" y2="174.4" stroke="#2b2b2b" stroke-width="1.1"/>
<line x1="373.18" y1="172.8" x2="373.18" y2="175.60000000000002" stroke="#2b2b2b" stroke-width="1.1"/>
<line x1="359.19" y1="172.8" x2="359.19" y2="174.4" stroke="#2b2b2b" stroke-width="1.1"/>
<line x1="345.21" y1="172.8" x2="345.21" y2="175.60000000000002" stroke="#2b2b2b" stroke-width="1.1"/>
<line x1="331.23" y1="172.8" x2="331.23" y2="174.4" stroke="#2b2b2b" stroke-width="1.1"/>
<line x1="317.24" y1="172.8" x2="317.24" y2="175.60000000000002" stroke="#2b2b2b" stroke-width="1.1"/>
<text x="317.24" y="187.3" font-size="13" text-anchor="middle" fill="#1a1a1a" >800</text>
<text x="373.18" y="187.3" font-size="13" text-anchor="middle" fill="#1a1a1a" >600</text>
<text x="429.12" y="187.3" font-size="13" text-anchor="middle" fill="#1a1a1a" >400</text>
<text x="485.06" y="187.3" font-size="13" text-anchor="middle" fill="#1a1a1a" >200</text>
<text x="541.0" y="187.3" font-size="13" text-anchor="middle" fill="#1a1a1a" >0</text>
<text x="371.8" y="201.3" font-size="13" text-anchor="start" fill="#1a1a1a" >Binding energy (eV)</text>
<text transform="translate(304.1 89.7) rotate(-90)" font-size="13" text-anchor="middle" fill="#1a1a1a">Intensity (a.u.)</text>
<text x="322.3" y="22.1" font-size="10.8" fill="#1a1a1a">CTF-NH<tspan font-size="7.6" dy="2.38">2</tspan><tspan dy="-2.38">-10-F</tspan></text>
<text x="322.8" y="107.7" font-size="10.8" fill="#1a1a1a">CTF-NH<tspan font-size="7.6" dy="2.38">2</tspan><tspan dy="-2.38">-10</tspan></text>
<text x="339.6" y="58.6" font-size="10" text-anchor="start" fill="#1a1a1a" >F 1s</text>
<text x="382.6" y="52.5" font-size="10" text-anchor="start" fill="#1a1a1a" >O 1s</text>
<text x="420.6" y="45.7" font-size="10" text-anchor="start" fill="#1a1a1a" >N 1s</text>
<text x="453.6" y="19.6" font-size="10" text-anchor="start" fill="#1a1a1a" >C 1s</text>
<text x="486.2" y="73.4" font-size="10" text-anchor="start" fill="#1a1a1a" >S 2p</text>
<text x="271.6" y="20.9" font-size="20" text-anchor="start" fill="#1a1a1a" >(b)</text>
<path d="M36.20 287.58 L36.70 287.57 L37.20 287.55 L37.70 287.53 L38.20 287.50 L38.70 287.48 L39.20 287.46 L39.70 287.43 L40.20 287.40 L40.70 287.37 L41.20 287.34 L41.70 287.31 L42.20 287.28 L42.70 287.24 L43.20 287.20 L43.70 287.16 L44.20 287.12 L44.70 287.07 L45.20 287.03 L45.70 286.98 L46.20 286.92 L46.70 286.87 L47.20 286.81 L47.70 286.76 L48.20 286.70 L48.70 286.63 L49.20 286.57 L49.70 286.50 L50.20 286.43 L50.70 286.35 L51.20 286.28 L51.70 286.20 L52.20 286.12 L52.70 286.04 L53.20 285.95 L53.70 285.87 L54.20 285.78 L54.70 285.69 L55.20 285.59 L55.70 285.50 L56.20 285.40 L56.70 285.30 L57.20 285.20 L57.70 285.10 L58.20 285.00 L58.70 284.90 L59.20 284.79 L59.70 284.69 L60.20 284.58 L60.70 284.48 L61.20 284.37 L61.70 284.26 L62.20 284.16 L62.70 284.05 L63.20 283.95 L63.70 283.85 L64.20 283.74 L64.70 283.64 L65.20 283.54 L65.70 283.45 L66.20 283.35 L66.70 283.26 L67.20 283.17 L67.70 283.08 L68.20 283.00 L68.70 282.92 L69.20 282.84 L69.70 282.77 L70.20 282.70 L70.70 282.63 L71.20 282.57 L71.70 282.52 L72.20 282.46 L72.70 282.42 L73.20 282.37 L73.70 282.34 L74.20 282.30 L74.70 282.28 L75.20 282.26 L75.70 282.24 L76.20 282.23 L76.70 282.22 L77.20 282.22 L77.70 282.23 L78.20 282.24 L78.70 282.26 L79.20 282.28 L79.70 282.31 L80.20 282.34 L80.70 282.38 L81.20 282.42 L81.70 282.47 L82.20 282.52 L82.70 282.58 L83.20 282.64 L83.70 282.71 L84.20 282.78 L84.70 282.86 L85.20 282.94 L85.70 283.02 L86.20 283.10 L86.70 283.19 L87.20 283.28 L87.70 283.38 L88.20 283.48 L88.70 283.58 L89.20 283.68 L89.70 283.78 L90.20 283.89 L90.70 283.99 L91.20 284.10 L91.70 284.21 L92.20 284.32 L92.70 284.43 L93.20 284.54 L93.70 284.65 L94.20 284.76 L94.70 284.87 L95.20 284.98 L95.70 285.09 L96.20 285.20 L96.70 285.31 L97.20 285.41 L97.70 285.52 L98.20 285.62 L98.70 285.73 L99.20 285.83 L99.70 285.93 L100.20 286.02 L100.70 286.12 L101.20 286.21 L101.70 286.31 L102.20 286.40 L102.70 286.49 L103.20 286.57 L103.70 286.66 L104.20 286.74 L104.70 286.82 L105.20 286.90 L105.70 286.98 L106.20 287.05 L106.70 287.12 L107.20 287.19 L107.70 287.26 L108.20 287.33 L108.70 287.40 L109.20 287.46 L109.70 287.52 L110.20 287.58 L110.70 287.64 L111.20 287.70 L111.70 287.75 L112.20 287.81 L112.70 287.86 L113.20 287.92 L113.70 287.97 L114.20 288.02 L114.70 288.07 L115.20 288.12 L115.70 288.16 L116.20 288.21 L116.70 288.26 L117.20 288.30 L117.70 288.35 L118.20 288.39 L118.70 288.44 L119.20 288.48 L119.70 288.52 L120.20 288.57 L120.70 288.61 L121.20 288.65 L121.70 288.70 L122.20 288.74 L122.70 288.78 L123.20 288.83 L123.70 288.87 L124.20 288.91 L124.70 288.96 L125.20 289.00 L125.70 289.04 L126.20 289.09 L126.70 289.13 L127.20 289.18 L127.70 289.22 L128.20 289.27 L128.70 289.32 L129.20 289.36 L129.70 289.41 L130.20 289.46 L130.70 289.50 L131.20 289.55 L131.70 289.60 L132.20 289.65 L132.70 289.70 L133.20 289.75 L133.70 289.80 L134.20 289.85 L134.70 289.90 L135.20 289.95 L135.70 290.00 L136.20 290.06 L136.70 290.11 L137.20 290.16 L137.70 290.21 L138.20 290.27 L138.70 290.32 L139.20 290.37 L139.70 290.43 L140.20 290.48 L140.70 290.54 L141.20 290.59 L141.70 290.65 L142.20 290.70 L142.70 290.76 L143.20 290.81 L143.70 290.87 L144.20 290.92 L144.70 290.98 L145.20 291.03 L145.70 291.08 L146.20 291.14 L146.70 291.19 L147.20 291.25 L147.70 291.30 L148.20 291.36 L148.70 291.41 L149.20 291.46 L149.70 291.52 L150.20 291.57 L150.70 291.62 L151.20 291.67 L151.70 291.73 L152.20 291.78 L152.70 291.83 L153.20 291.88 L153.70 291.93 L154.20 291.98 L154.70 292.03 L155.20 292.08 L155.70 292.12 L156.20 292.17 L156.70 292.22 L157.20 292.27 L157.70 292.31 L158.20 292.36 L158.70 292.40 L159.20 292.44 L159.70 292.49 L160.20 292.53 L160.70 292.57 L161.20 292.61 L161.70 292.65 L162.20 292.69 L162.70 292.73 L163.20 292.77 L163.70 292.81 L164.20 292.84 L164.70 292.88 L165.20 292.91 L165.70 292.95 L166.20 292.98 L166.70 293.02 L167.20 293.05 L167.70 293.08 L168.20 293.11 L168.70 293.14 L169.20 293.17 L169.70 293.20 L170.20 293.23 L170.70 293.25 L171.20 293.28 L171.70 293.31 L172.20 293.33 L172.70 293.35 L173.20 293.38 L173.70 293.40 L174.20 293.42 L174.70 293.45 L175.20 293.47 L175.70 293.49 L176.20 293.51 L176.70 293.53 L177.20 293.54 L177.70 293.56 L178.20 293.58 L178.70 293.60 L179.20 293.61 L179.70 293.63 L180.20 293.64 L180.70 293.66 L181.20 293.67 L181.70 293.69 L182.20 293.70 L182.70 293.71 L183.20 293.72 L183.70 293.74 L184.20 293.75 L184.70 293.76 L185.20 293.77 L185.70 293.78 L186.20 293.79 L186.70 293.80 L187.20 293.81 L187.70 293.82 L188.20 293.82 L188.70 293.83 L189.20 293.84 L189.70 293.85 L190.20 293.85 L190.70 293.86 L191.20 293.87 L191.70 293.87 L192.20 293.88 L192.70 293.88 L193.20 293.89 L193.70 293.89 L194.20 293.90 L194.70 293.90 L195.20 293.91 L195.70 293.91 L196.20 293.92 L196.70 293.92 L197.20 293.92 L197.70 293.93 L198.20 293.93 L198.70 293.93 L199.20 293.94 L199.70 293.94 L200.20 293.94 L200.70 293.94 L201.20 293.95 L201.70 293.95 L202.20 293.95 L202.70 293.95 L203.20 293.95 L203.70 293.96 L204.20 293.96 L204.70 293.96 L205.20 293.96 L205.70 293.96 L206.20 293.96 L206.70 293.97 L207.20 293.97 L207.70 293.97 L208.20 293.97 L208.70 293.97 L209.20 293.97 L209.70 293.97 L210.20 293.97 L210.70 293.97 L211.20 293.98 L211.70 293.98 L212.20 293.98 L212.70 293.98 L213.20 293.98 L213.70 293.98 L214.20 293.98 L214.70 293.98 L215.20 293.98 L215.70 293.98 L216.20 293.98 L216.70 293.98 L217.20 293.98 L217.70 293.98 L218.20 293.98 L218.70 293.98 L219.20 293.99 L219.70 293.99 L220.20 293.99 L220.70 293.99 L221.20 293.99 L221.70 293.99 L222.20 293.99 L222.70 293.99 L223.20 293.99 L223.70 293.99 L224.20 293.99 L224.70 293.99 L225.20 293.99 L225.70 293.99 L226.20 293.99 L226.70 293.99 L227.20 293.99 L227.70 293.99 L228.20 293.99 L228.70 293.99 L229.20 293.99 L229.70 293.99 L230.20 293.99 L230.70 293.99 L231.20 293.99 L231.70 293.99 L232.20 293.99 L232.70 293.99 L233.20 293.99 L233.70 293.99 L234.20 293.99 L234.70 293.99 L235.20 293.99 L235.70 293.99 L236.20 293.99 L236.70 293.99 L237.20 293.99 L237.70 293.99 L238.20 293.99 L238.70 293.99 L239.20 294.00 L239.70 294.00 L240.20 294.00 L240.70 294.00 L241.20 294.00 L241.70 294.00 L242.20 294.00 L242.70 294.00 L243.20 294.00 L243.70 294.00 L244.20 294.00 L244.70 294.00 L245.20 294.00 L245.70 294.00 L246.20 294.00 L246.70 294.00 L247.20 294.00 L247.70 294.00 L248.20 294.00 L248.70 294.00 L249.20 294.00 L249.70 294.00 L250.20 294.00 L250.70 294.00 L251.20 294.00 L251.70 294.00 L252.20 294.00 L252.70 294.00 L253.20 294.00 L253.70 294.00 L254.20 294.00 L254.70 294.00 L255.20 294.00 L255.70 294.00 L256.20 294.00 L256.70 294.00 L257.20 294.00 L257.70 294.00" fill="none" stroke="#3a7fdc" stroke-width="1.2"/>
<path d="M36.20 287.56 L36.70 287.55 L37.20 287.54 L37.70 287.53 L38.20 287.51 L38.70 287.50 L39.20 287.49 L39.70 287.47 L40.20 287.46 L40.70 287.45 L41.20 287.43 L41.70 287.41 L42.20 287.40 L42.70 287.38 L43.20 287.36 L43.70 287.35 L44.20 287.33 L44.70 287.31 L45.20 287.29 L45.70 287.27 L46.20 287.25 L46.70 287.22 L47.20 287.20 L47.70 287.18 L48.20 287.15 L48.70 287.13 L49.20 287.10 L49.70 287.08 L50.20 287.05 L50.70 287.02 L51.20 286.99 L51.70 286.96 L52.20 286.93 L52.70 286.90 L53.20 286.87 L53.70 286.84 L54.20 286.80 L54.70 286.77 L55.20 286.73 L55.70 286.70 L56.20 286.66 L56.70 286.62 L57.20 286.58 L57.70 286.54 L58.20 286.50 L58.70 286.46 L59.20 286.42 L59.70 286.37 L60.20 286.33 L60.70 286.28 L61.20 286.23 L61.70 286.19 L62.20 286.14 L62.70 286.09 L63.20 286.04 L63.70 285.99 L64.20 285.93 L64.70 285.88 L65.20 285.83 L65.70 285.77 L66.20 285.71 L66.70 285.66 L67.20 285.60 L67.70 285.54 L68.20 285.48 L68.70 285.42 L69.20 285.36 L69.70 285.29 L70.20 285.23 L70.70 285.17 L71.20 285.10 L71.70 285.04 L72.20 284.97 L72.70 284.90 L73.20 284.84 L73.70 284.77 L74.20 284.70 L74.70 284.63 L75.20 284.56 L75.70 284.49 L76.20 284.42 L76.70 284.34 L77.20 284.27 L77.70 284.20 L78.20 284.12 L78.70 284.05 L79.20 283.98 L79.70 283.90 L80.20 283.83 L80.70 283.75 L81.20 283.68 L81.70 283.60 L82.20 283.53 L82.70 283.46 L83.20 283.38 L83.70 283.31 L84.20 283.23 L84.70 283.16 L85.20 283.08 L85.70 283.01 L86.20 282.94 L86.70 282.86 L87.20 282.79 L87.70 282.72 L88.20 282.65 L88.70 282.58 L89.20 282.51 L89.70 282.44 L90.20 282.37 L90.70 282.30 L91.20 282.23 L91.70 282.17 L92.20 282.10 L92.70 282.04 L93.20 281.98 L93.70 281.92 L94.20 281.86 L94.70 281.80 L95.20 281.74 L95.70 281.69 L96.20 281.63 L96.70 281.58 L97.20 281.53 L97.70 281.48 L98.20 281.43 L98.70 281.39 L99.20 281.34 L99.70 281.30 L100.20 281.26 L100.70 281.22 L101.20 281.19 L101.70 281.15 L102.20 281.12 L102.70 281.09 L103.20 281.07 L103.70 281.04 L104.20 281.02 L104.70 281.00 L105.20 280.98 L105.70 280.97 L106.20 280.95 L106.70 280.94 L107.20 280.94 L107.70 280.93 L108.20 280.93 L108.70 280.93 L109.20 280.93 L109.70 280.94 L110.20 280.95 L110.70 280.96 L111.20 280.97 L111.70 280.99 L112.20 281.01 L112.70 281.03 L113.20 281.05 L113.70 281.08 L114.20 281.11 L114.70 281.15 L115.20 281.18 L115.70 281.22 L116.20 281.26 L116.70 281.31 L117.20 281.36 L117.70 281.41 L118.20 281.46 L118.70 281.52 L119.20 281.57 L119.70 281.64 L120.20 281.70 L120.70 281.77 L121.20 281.83 L121.70 281.91 L122.20 281.98 L122.70 282.06 L123.20 282.14 L123.70 282.22 L124.20 282.30 L124.70 282.39 L125.20 282.48 L125.70 282.57 L126.20 282.66 L126.70 282.76 L127.20 282.86 L127.70 282.96 L128.20 283.06 L128.70 283.16 L129.20 283.27 L129.70 283.37 L130.20 283.48 L130.70 283.59 L131.20 283.71 L131.70 283.82 L132.20 283.94 L132.70 284.05 L133.20 284.17 L133.70 284.29 L134.20 284.41 L134.70 284.54 L135.20 284.66 L135.70 284.78 L136.20 284.91 L136.70 285.03 L137.20 285.16 L137.70 285.29 L138.20 285.42 L138.70 285.55 L139.20 285.68 L139.70 285.80 L140.20 285.94 L140.70 286.07 L141.20 286.20 L141.70 286.33 L142.20 286.46 L142.70 286.59 L143.20 286.72 L143.70 286.85 L144.20 286.98 L144.70 287.11 L145.20 287.24 L145.70 287.37 L146.20 287.50 L146.70 287.63 L147.20 287.75 L147.70 287.88 L148.20 288.01 L148.70 288.13 L149.20 288.26 L149.70 288.38 L150.20 288.50 L150.70 288.63 L151.20 288.75 L151.70 288.87 L152.20 288.99 L152.70 289.10 L153.20 289.22 L153.70 289.33 L154.20 289.45 L154.70 289.56 L155.20 289.67 L155.70 289.78 L156.20 289.89 L156.70 289.99 L157.20 290.10 L157.70 290.20 L158.20 290.30 L158.70 290.40 L159.20 290.50 L159.70 290.60 L160.20 290.70 L160.70 290.79 L161.20 290.88 L161.70 290.97 L162.20 291.06 L162.70 291.15 L163.20 291.23 L163.70 291.32 L164.20 291.40 L164.70 291.48 L165.20 291.56 L165.70 291.63 L166.20 291.71 L166.70 291.78 L167.20 291.85 L167.70 291.93 L168.20 291.99 L168.70 292.06 L169.20 292.13 L169.70 292.19 L170.20 292.25 L170.70 292.31 L171.20 292.37 L171.70 292.43 L172.20 292.48 L172.70 292.54 L173.20 292.59 L173.70 292.64 L174.20 292.69 L174.70 292.74 L175.20 292.79 L175.70 292.83 L176.20 292.88 L176.70 292.92 L177.20 292.96 L177.70 293.00 L178.20 293.04 L178.70 293.08 L179.20 293.12 L179.70 293.15 L180.20 293.18 L180.70 293.22 L181.20 293.25 L181.70 293.28 L182.20 293.31 L182.70 293.34 L183.20 293.37 L183.70 293.39 L184.20 293.42 L184.70 293.44 L185.20 293.47 L185.70 293.49 L186.20 293.51 L186.70 293.53 L187.20 293.55 L187.70 293.57 L188.20 293.59 L188.70 293.61 L189.20 293.63 L189.70 293.64 L190.20 293.66 L190.70 293.68 L191.20 293.69 L191.70 293.70 L192.20 293.72 L192.70 293.73 L193.20 293.74 L193.70 293.76 L194.20 293.77 L194.70 293.78 L195.20 293.79 L195.70 293.80 L196.20 293.81 L196.70 293.82 L197.20 293.83 L197.70 293.83 L198.20 293.84 L198.70 293.85 L199.20 293.86 L199.70 293.86 L200.20 293.87 L200.70 293.88 L201.20 293.88 L201.70 293.89 L202.20 293.89 L202.70 293.90 L203.20 293.90 L203.70 293.91 L204.20 293.91 L204.70 293.92 L205.20 293.92 L205.70 293.92 L206.20 293.93 L206.70 293.93 L207.20 293.93 L207.70 293.94 L208.20 293.94 L208.70 293.94 L209.20 293.95 L209.70 293.95 L210.20 293.95 L210.70 293.95 L211.20 293.95 L211.70 293.96 L212.20 293.96 L212.70 293.96 L213.20 293.96 L213.70 293.96 L214.20 293.97 L214.70 293.97 L215.20 293.97 L215.70 293.97 L216.20 293.97 L216.70 293.97 L217.20 293.97 L217.70 293.97 L218.20 293.98 L218.70 293.98 L219.20 293.98 L219.70 293.98 L220.20 293.98 L220.70 293.98 L221.20 293.98 L221.70 293.98 L222.20 293.98 L222.70 293.98 L223.20 293.98 L223.70 293.98 L224.20 293.98 L224.70 293.99 L225.20 293.99 L225.70 293.99 L226.20 293.99 L226.70 293.99 L227.20 293.99 L227.70 293.99 L228.20 293.99 L228.70 293.99 L229.20 293.99 L229.70 293.99 L230.20 293.99 L230.70 293.99 L231.20 293.99 L231.70 293.99 L232.20 293.99 L232.70 293.99 L233.20 293.99 L233.70 293.99 L234.20 293.99 L234.70 293.99 L235.20 293.99 L235.70 293.99 L236.20 293.99 L236.70 293.99 L237.20 293.99 L237.70 293.99 L238.20 293.99 L238.70 293.99 L239.20 293.99 L239.70 293.99 L240.20 293.99 L240.70 294.00 L241.20 294.00 L241.70 294.00 L242.20 294.00 L242.70 294.00 L243.20 294.00 L243.70 294.00 L244.20 294.00 L244.70 294.00 L245.20 294.00 L245.70 294.00 L246.20 294.00 L246.70 294.00 L247.20 294.00 L247.70 294.00 L248.20 294.00 L248.70 294.00 L249.20 294.00 L249.70 294.00 L250.20 294.00 L250.70 294.00 L251.20 294.00 L251.70 294.00 L252.20 294.00 L252.70 294.00 L253.20 294.00 L253.70 294.00 L254.20 294.00 L254.70 294.00 L255.20 294.00 L255.70 294.00 L256.20 294.00 L256.70 294.00 L257.20 294.00 L257.70 294.00" fill="none" stroke="#46b07a" stroke-width="1.2"/>
<path d="M36.20 287.67 L36.70 287.67 L37.20 287.67 L37.70 287.67 L38.20 287.67 L38.70 287.67 L39.20 287.66 L39.70 287.66 L40.20 287.66 L40.70 287.66 L41.20 287.66 L41.70 287.66 L42.20 287.66 L42.70 287.66 L43.20 287.65 L43.70 287.65 L44.20 287.65 L44.70 287.65 L45.20 287.65 L45.70 287.65 L46.20 287.65 L46.70 287.64 L47.20 287.64 L47.70 287.64 L48.20 287.64 L48.70 287.64 L49.20 287.63 L49.70 287.63 L50.20 287.63 L50.70 287.63 L51.20 287.63 L51.70 287.62 L52.20 287.62 L52.70 287.62 L53.20 287.61 L53.70 287.61 L54.20 287.61 L54.70 287.61 L55.20 287.60 L55.70 287.60 L56.20 287.59 L56.70 287.59 L57.20 287.59 L57.70 287.58 L58.20 287.58 L58.70 287.57 L59.20 287.57 L59.70 287.56 L60.20 287.56 L60.70 287.55 L61.20 287.54 L61.70 287.54 L62.20 287.53 L62.70 287.52 L63.20 287.51 L63.70 287.51 L64.20 287.50 L64.70 287.49 L65.20 287.48 L65.70 287.47 L66.20 287.45 L66.70 287.44 L67.20 287.43 L67.70 287.42 L68.20 287.40 L68.70 287.38 L69.20 287.37 L69.70 287.35 L70.20 287.33 L70.70 287.31 L71.20 287.29 L71.70 287.27 L72.20 287.24 L72.70 287.22 L73.20 287.19 L73.70 287.16 L74.20 287.13 L74.70 287.10 L75.20 287.07 L75.70 287.03 L76.20 286.99 L76.70 286.95 L77.20 286.91 L77.70 286.86 L78.20 286.82 L78.70 286.77 L79.20 286.71 L79.70 286.66 L80.20 286.60 L80.70 286.53 L81.20 286.47 L81.70 286.40 L82.20 286.32 L82.70 286.25 L83.20 286.16 L83.70 286.08 L84.20 285.99 L84.70 285.89 L85.20 285.79 L85.70 285.69 L86.20 285.58 L86.70 285.46 L87.20 285.34 L87.70 285.21 L88.20 285.08 L88.70 284.94 L89.20 284.80 L89.70 284.64 L90.20 284.48 L90.70 284.32 L91.20 284.14 L91.70 283.96 L92.20 283.77 L92.70 283.57 L93.20 283.37 L93.70 283.15 L94.20 282.93 L94.70 282.70 L95.20 282.46 L95.70 282.21 L96.20 281.95 L96.70 281.68 L97.20 281.40 L97.70 281.11 L98.20 280.81 L98.70 280.49 L99.20 280.17 L99.70 279.84 L100.20 279.50 L100.70 279.14 L101.20 278.77 L101.70 278.39 L102.20 278.00 L102.70 277.60 L103.20 277.19 L103.70 276.76 L104.20 276.32 L104.70 275.87 L105.20 275.41 L105.70 274.94 L106.20 274.45 L106.70 273.95 L107.20 273.44 L107.70 272.92 L108.20 272.39 L108.70 271.84 L109.20 271.28 L109.70 270.71 L110.20 270.13 L110.70 269.54 L111.20 268.94 L111.70 268.32 L112.20 267.70 L112.70 267.06 L113.20 266.42 L113.70 265.77 L114.20 265.10 L114.70 264.43 L115.20 263.75 L115.70 263.06 L116.20 262.37 L116.70 261.66 L117.20 260.96 L117.70 260.24 L118.20 259.52 L118.70 258.80 L119.20 258.07 L119.70 257.33 L120.20 256.60 L120.70 255.86 L121.20 255.12 L121.70 254.38 L122.20 253.64 L122.70 252.90 L123.20 252.17 L123.70 251.43 L124.20 250.70 L124.70 249.97 L125.20 249.25 L125.70 248.53 L126.20 247.82 L126.70 247.12 L127.20 246.42 L127.70 245.74 L128.20 245.06 L128.70 244.40 L129.20 243.75 L129.70 243.11 L130.20 242.48 L130.70 241.87 L131.20 241.27 L131.70 240.69 L132.20 240.12 L132.70 239.58 L133.20 239.05 L133.70 238.54 L134.20 238.06 L134.70 237.59 L135.20 237.14 L135.70 236.72 L136.20 236.32 L136.70 235.95 L137.20 235.60 L137.70 235.27 L138.20 234.97 L138.70 234.70 L139.20 234.45 L139.70 234.23 L140.20 234.04 L140.70 233.87 L141.20 233.74 L141.70 233.63 L142.20 233.55 L142.70 233.50 L143.20 233.48 L143.70 233.48 L144.20 233.52 L144.70 233.59 L145.20 233.68 L145.70 233.81 L146.20 233.96 L146.70 234.14 L147.20 234.36 L147.70 234.60 L148.20 234.86 L148.70 235.16 L149.20 235.48 L149.70 235.83 L150.20 236.20 L150.70 236.60 L151.20 237.03 L151.70 237.48 L152.20 237.95 L152.70 238.45 L153.20 238.97 L153.70 239.51 L154.20 240.07 L154.70 240.65 L155.20 241.25 L155.70 241.87 L156.20 242.51 L156.70 243.17 L157.20 243.84 L157.70 244.52 L158.20 245.22 L158.70 245.94 L159.20 246.66 L159.70 247.40 L160.20 248.15 L160.70 248.90 L161.20 249.67 L161.70 250.45 L162.20 251.23 L162.70 252.01 L163.20 252.81 L163.70 253.60 L164.20 254.41 L164.70 255.21 L165.20 256.01 L165.70 256.82 L166.20 257.63 L166.70 258.43 L167.20 259.24 L167.70 260.04 L168.20 260.84 L168.70 261.64 L169.20 262.43 L169.70 263.22 L170.20 264.00 L170.70 264.78 L171.20 265.55 L171.70 266.31 L172.20 267.06 L172.70 267.81 L173.20 268.55 L173.70 269.28 L174.20 270.00 L174.70 270.70 L175.20 271.40 L175.70 272.09 L176.20 272.77 L176.70 273.43 L177.20 274.09 L177.70 274.73 L178.20 275.36 L178.70 275.98 L179.20 276.58 L179.70 277.17 L180.20 277.75 L180.70 278.32 L181.20 278.87 L181.70 279.41 L182.20 279.94 L182.70 280.46 L183.20 280.96 L183.70 281.45 L184.20 281.92 L184.70 282.38 L185.20 282.83 L185.70 283.27 L186.20 283.69 L186.70 284.11 L187.20 284.50 L187.70 284.89 L188.20 285.27 L188.70 285.63 L189.20 285.98 L189.70 286.32 L190.20 286.64 L190.70 286.96 L191.20 287.27 L191.70 287.56 L192.20 287.84 L192.70 288.12 L193.20 288.38 L193.70 288.63 L194.20 288.88 L194.70 289.11 L195.20 289.34 L195.70 289.55 L196.20 289.76 L196.70 289.96 L197.20 290.15 L197.70 290.33 L198.20 290.51 L198.70 290.67 L199.20 290.83 L199.70 290.99 L200.20 291.13 L200.70 291.27 L201.20 291.41 L201.70 291.53 L202.20 291.65 L202.70 291.77 L203.20 291.88 L203.70 291.98 L204.20 292.08 L204.70 292.18 L205.20 292.27 L205.70 292.35 L206.20 292.44 L206.70 292.51 L207.20 292.59 L207.70 292.66 L208.20 292.72 L208.70 292.78 L209.20 292.84 L209.70 292.90 L210.20 292.95 L210.70 293.00 L211.20 293.05 L211.70 293.10 L212.20 293.14 L212.70 293.18 L213.20 293.22 L213.70 293.25 L214.20 293.29 L214.70 293.32 L215.20 293.35 L215.70 293.38 L216.20 293.40 L216.70 293.43 L217.20 293.45 L217.70 293.48 L218.20 293.50 L218.70 293.52 L219.20 293.54 L219.70 293.55 L220.20 293.57 L220.70 293.59 L221.20 293.60 L221.70 293.61 L222.20 293.63 L222.70 293.64 L223.20 293.65 L223.70 293.66 L224.20 293.67 L224.70 293.68 L225.20 293.69 L225.70 293.70 L226.20 293.71 L226.70 293.72 L227.20 293.72 L227.70 293.73 L228.20 293.74 L228.70 293.74 L229.20 293.75 L229.70 293.76 L230.20 293.76 L230.70 293.77 L231.20 293.77 L231.70 293.78 L232.20 293.78 L232.70 293.78 L233.20 293.79 L233.70 293.79 L234.20 293.80 L234.70 293.80 L235.20 293.80 L235.70 293.81 L236.20 293.81 L236.70 293.81 L237.20 293.81 L237.70 293.82 L238.20 293.82 L238.70 293.82 L239.20 293.82 L239.70 293.83 L240.20 293.83 L240.70 293.83 L241.20 293.83 L241.70 293.84 L242.20 293.84 L242.70 293.84 L243.20 293.84 L243.70 293.84 L244.20 293.85 L244.70 293.85 L245.20 293.85 L245.70 293.85 L246.20 293.85 L246.70 293.85 L247.20 293.86 L247.70 293.86 L248.20 293.86 L248.70 293.86 L249.20 293.86 L249.70 293.86 L250.20 293.86 L250.70 293.87 L251.20 293.87 L251.70 293.87 L252.20 293.87 L252.70 293.87 L253.20 293.87 L253.70 293.87 L254.20 293.87 L254.70 293.88 L255.20 293.88 L255.70 293.88 L256.20 293.88 L256.70 293.88 L257.20 293.88 L257.70 293.88" fill="none" stroke="#ee4b47" stroke-width="1.2"/>
<path d="M36.20 287.80 L36.70 287.80 L37.20 287.80 L37.70 287.80 L38.20 287.80 L38.70 287.80 L39.20 287.80 L39.70 287.80 L40.20 287.80 L40.70 287.80 L41.20 287.80 L41.70 287.80 L42.20 287.80 L42.70 287.80 L43.20 287.80 L43.70 287.80 L44.20 287.80 L44.70 287.80 L45.20 287.80 L45.70 287.80 L46.20 287.80 L46.70 287.80 L47.20 287.80 L47.70 287.80 L48.20 287.80 L48.70 287.80 L49.20 287.80 L49.70 287.80 L50.20 287.80 L50.70 287.80 L51.20 287.80 L51.70 287.80 L52.20 287.80 L52.70 287.80 L53.20 287.81 L53.70 287.81 L54.20 287.81 L54.70 287.81 L55.20 287.81 L55.70 287.81 L56.20 287.81 L56.70 287.81 L57.20 287.81 L57.70 287.81 L58.20 287.81 L58.70 287.81 L59.20 287.81 L59.70 287.81 L60.20 287.81 L60.70 287.81 L61.20 287.81 L61.70 287.81 L62.20 287.81 L62.70 287.81 L63.20 287.81 L63.70 287.81 L64.20 287.81 L64.70 287.81 L65.20 287.81 L65.70 287.81 L66.20 287.81 L66.70 287.81 L67.20 287.81 L67.70 287.81 L68.20 287.81 L68.70 287.81 L69.20 287.81 L69.70 287.81 L70.20 287.81 L70.70 287.82 L71.20 287.82 L71.70 287.82 L72.20 287.82 L72.70 287.82 L73.20 287.82 L73.70 287.82 L74.20 287.82 L74.70 287.82 L75.20 287.82 L75.70 287.82 L76.20 287.82 L76.70 287.82 L77.20 287.82 L77.70 287.82 L78.20 287.83 L78.70 287.83 L79.20 287.83 L79.70 287.83 L80.20 287.83 L80.70 287.83 L81.20 287.83 L81.70 287.83 L82.20 287.84 L82.70 287.84 L83.20 287.84 L83.70 287.84 L84.20 287.84 L84.70 287.84 L85.20 287.85 L85.70 287.85 L86.20 287.85 L86.70 287.85 L87.20 287.85 L87.70 287.86 L88.20 287.86 L88.70 287.86 L89.20 287.87 L89.70 287.87 L90.20 287.87 L90.70 287.88 L91.20 287.88 L91.70 287.88 L92.20 287.89 L92.70 287.89 L93.20 287.90 L93.70 287.90 L94.20 287.90 L94.70 287.91 L95.20 287.91 L95.70 287.92 L96.20 287.93 L96.70 287.93 L97.20 287.94 L97.70 287.94 L98.20 287.95 L98.70 287.96 L99.20 287.97 L99.70 287.97 L100.20 287.98 L100.70 287.99 L101.20 288.00 L101.70 288.01 L102.20 288.02 L102.70 288.03 L103.20 288.04 L103.70 288.05 L104.20 288.06 L104.70 288.07 L105.20 288.08 L105.70 288.10 L106.20 288.11 L106.70 288.12 L107.20 288.14 L107.70 288.15 L108.20 288.17 L108.70 288.18 L109.20 288.20 L109.70 288.22 L110.20 288.23 L110.70 288.25 L111.20 288.27 L111.70 288.29 L112.20 288.31 L112.70 288.33 L113.20 288.35 L113.70 288.37 L114.20 288.39 L114.70 288.42 L115.20 288.44 L115.70 288.46 L116.20 288.49 L116.70 288.51 L117.20 288.54 L117.70 288.57 L118.20 288.59 L118.70 288.62 L119.20 288.65 L119.70 288.68 L120.20 288.71 L120.70 288.74 L121.20 288.78 L121.70 288.81 L122.20 288.84 L122.70 288.88 L123.20 288.91 L123.70 288.95 L124.20 288.99 L124.70 289.02 L125.20 289.06 L125.70 289.10 L126.20 289.14 L126.70 289.18 L127.20 289.22 L127.70 289.26 L128.20 289.30 L128.70 289.35 L129.20 289.39 L129.70 289.43 L130.20 289.48 L130.70 289.52 L131.20 289.57 L131.70 289.62 L132.20 289.66 L132.70 289.71 L133.20 289.76 L133.70 289.81 L134.20 289.86 L134.70 289.91 L135.20 289.96 L135.70 290.01 L136.20 290.06 L136.70 290.11 L137.20 290.17 L137.70 290.22 L138.20 290.27 L138.70 290.32 L139.20 290.38 L139.70 290.43 L140.20 290.48 L140.70 290.54 L141.20 290.59 L141.70 290.65 L142.20 290.70 L142.70 290.76 L143.20 290.81 L143.70 290.87 L144.20 290.92 L144.70 290.98 L145.20 291.03 L145.70 291.09 L146.20 291.14 L146.70 291.19 L147.20 291.25 L147.70 291.30 L148.20 291.36 L148.70 291.41 L149.20 291.46 L149.70 291.52 L150.20 291.57 L150.70 291.62 L151.20 291.67 L151.70 291.73 L152.20 291.78 L152.70 291.83 L153.20 291.88 L153.70 291.93 L154.20 291.98 L154.70 292.03 L155.20 292.08 L155.70 292.12 L156.20 292.17 L156.70 292.22 L157.20 292.27 L157.70 292.31 L158.20 292.36 L158.70 292.40 L159.20 292.44 L159.70 292.49 L160.20 292.53 L160.70 292.57 L161.20 292.61 L161.70 292.65 L162.20 292.69 L162.70 292.73 L163.20 292.77 L163.70 292.81 L164.20 292.84 L164.70 292.88 L165.20 292.91 L165.70 292.95 L166.20 292.98 L166.70 293.02 L167.20 293.05 L167.70 293.08 L168.20 293.11 L168.70 293.14 L169.20 293.17 L169.70 293.20 L170.20 293.23 L170.70 293.25 L171.20 293.28 L171.70 293.31 L172.20 293.33 L172.70 293.35 L173.20 293.38 L173.70 293.40 L174.20 293.42 L174.70 293.45 L175.20 293.47 L175.70 293.49 L176.20 293.51 L176.70 293.53 L177.20 293.54 L177.70 293.56 L178.20 293.58 L178.70 293.60 L179.20 293.61 L179.70 293.63 L180.20 293.64 L180.70 293.66 L181.20 293.67 L181.70 293.69 L182.20 293.70 L182.70 293.71 L183.20 293.72 L183.70 293.74 L184.20 293.75 L184.70 293.76 L185.20 293.77 L185.70 293.78 L186.20 293.79 L186.70 293.80 L187.20 293.81 L187.70 293.82 L188.20 293.82 L188.70 293.83 L189.20 293.84 L189.70 293.85 L190.20 293.85 L190.70 293.86 L191.20 293.87 L191.70 293.87 L192.20 293.88 L192.70 293.88 L193.20 293.89 L193.70 293.89 L194.20 293.90 L194.70 293.90 L195.20 293.91 L195.70 293.91 L196.20 293.92 L196.70 293.92 L197.20 293.92 L197.70 293.93 L198.20 293.93 L198.70 293.93 L199.20 293.94 L199.70 293.94 L200.20 293.94 L200.70 293.94 L201.20 293.95 L201.70 293.95 L202.20 293.95 L202.70 293.95 L203.20 293.95 L203.70 293.96 L204.20 293.96 L204.70 293.96 L205.20 293.96 L205.70 293.96 L206.20 293.96 L206.70 293.97 L207.20 293.97 L207.70 293.97 L208.20 293.97 L208.70 293.97 L209.20 293.97 L209.70 293.97 L210.20 293.97 L210.70 293.97 L211.20 293.98 L211.70 293.98 L212.20 293.98 L212.70 293.98 L213.20 293.98 L213.70 293.98 L214.20 293.98 L214.70 293.98 L215.20 293.98 L215.70 293.98 L216.20 293.98 L216.70 293.98 L217.20 293.98 L217.70 293.98 L218.20 293.98 L218.70 293.98 L219.20 293.99 L219.70 293.99 L220.20 293.99 L220.70 293.99 L221.20 293.99 L221.70 293.99 L222.20 293.99 L222.70 293.99 L223.20 293.99 L223.70 293.99 L224.20 293.99 L224.70 293.99 L225.20 293.99 L225.70 293.99 L226.20 293.99 L226.70 293.99 L227.20 293.99 L227.70 293.99 L228.20 293.99 L228.70 293.99 L229.20 293.99 L229.70 293.99 L230.20 293.99 L230.70 293.99 L231.20 293.99 L231.70 293.99 L232.20 293.99 L232.70 293.99 L233.20 293.99 L233.70 293.99 L234.20 293.99 L234.70 293.99 L235.20 293.99 L235.70 293.99 L236.20 293.99 L236.70 293.99 L237.20 293.99 L237.70 293.99 L238.20 293.99 L238.70 293.99 L239.20 294.00 L239.70 294.00 L240.20 294.00 L240.70 294.00 L241.20 294.00 L241.70 294.00 L242.20 294.00 L242.70 294.00 L243.20 294.00 L243.70 294.00 L244.20 294.00 L244.70 294.00 L245.20 294.00 L245.70 294.00 L246.20 294.00 L246.70 294.00 L247.20 294.00 L247.70 294.00 L248.20 294.00 L248.70 294.00 L249.20 294.00 L249.70 294.00 L250.20 294.00 L250.70 294.00 L251.20 294.00 L251.70 294.00 L252.20 294.00 L252.70 294.00 L253.20 294.00 L253.70 294.00 L254.20 294.00 L254.70 294.00 L255.20 294.00 L255.70 294.00 L256.20 294.00 L256.70 294.00 L257.20 294.00 L257.70 294.00" fill="none" stroke="#a474e6" stroke-width="1.2"/>
<g fill="#fbfbf8" stroke="#4a4a4a" stroke-width="0.85"><circle cx="36.15" cy="286.38" r="2.15"/><circle cx="40.18" cy="286.46" r="2.15"/><circle cx="44.21" cy="285.83" r="2.15"/><circle cx="48.24" cy="285.13" r="2.15"/><circle cx="52.27" cy="284.33" r="2.15"/><circle cx="56.30" cy="283.76" r="2.15"/><circle cx="60.33" cy="282.12" r="2.15"/><circle cx="64.36" cy="281.00" r="2.15"/><circle cx="68.39" cy="279.55" r="2.15"/><circle cx="72.42" cy="278.38" r="2.15"/><circle cx="76.45" cy="277.53" r="2.15"/><circle cx="80.48" cy="276.75" r="2.15"/><circle cx="84.51" cy="275.52" r="2.15"/><circle cx="88.54" cy="274.56" r="2.15"/><circle cx="92.57" cy="273.82" r="2.15"/><circle cx="96.60" cy="271.89" r="2.15"/><circle cx="100.63" cy="269.56" r="2.15"/><circle cx="104.66" cy="267.23" r="2.15"/><circle cx="108.69" cy="263.15" r="2.15"/><circle cx="112.72" cy="258.93" r="2.15"/><circle cx="116.75" cy="253.54" r="2.15"/><circle cx="120.78" cy="248.42" r="2.15"/><circle cx="124.81" cy="242.65" r="2.15"/><circle cx="128.84" cy="237.35" r="2.15"/><circle cx="132.87" cy="232.97" r="2.15"/><circle cx="136.90" cy="230.30" r="2.15"/><circle cx="140.93" cy="228.89" r="2.15"/><circle cx="144.96" cy="229.58" r="2.15"/><circle cx="148.99" cy="231.38" r="2.15"/><circle cx="153.02" cy="235.79" r="2.15"/><circle cx="157.05" cy="240.98" r="2.15"/><circle cx="161.08" cy="247.34" r="2.15"/><circle cx="165.11" cy="253.81" r="2.15"/><circle cx="169.14" cy="260.64" r="2.15"/><circle cx="173.17" cy="267.18" r="2.15"/><circle cx="177.20" cy="273.20" r="2.15"/><circle cx="181.23" cy="277.58" r="2.15"/><circle cx="185.26" cy="281.92" r="2.15"/><circle cx="189.29" cy="285.38" r="2.15"/><circle cx="193.32" cy="287.96" r="2.15"/><circle cx="197.35" cy="289.24" r="2.15"/><circle cx="201.38" cy="290.48" r="2.15"/><circle cx="205.41" cy="291.94" r="2.15"/><circle cx="209.44" cy="292.55" r="2.15"/><circle cx="213.47" cy="292.63" r="2.15"/><circle cx="217.50" cy="292.55" r="2.15"/><circle cx="221.53" cy="293.31" r="2.15"/><circle cx="225.56" cy="293.02" r="2.15"/><circle cx="229.59" cy="293.44" r="2.15"/><circle cx="233.62" cy="293.28" r="2.15"/><circle cx="237.65" cy="293.44" r="2.15"/><circle cx="241.68" cy="293.00" r="2.15"/><circle cx="245.71" cy="293.45" r="2.15"/><circle cx="249.74" cy="293.07" r="2.15"/><circle cx="253.77" cy="293.21" r="2.15"/><circle cx="257.80" cy="293.53" r="2.15"/></g>
<path d="M36.20 287.21 L36.70 287.18 L37.20 287.15 L37.70 287.12 L38.20 287.08 L38.70 287.05 L39.20 287.01 L39.70 286.97 L40.20 286.92 L40.70 286.88 L41.20 286.83 L41.70 286.78 L42.20 286.73 L42.70 286.67 L43.20 286.62 L43.70 286.55 L44.20 286.49 L44.70 286.43 L45.20 286.36 L45.70 286.29 L46.20 286.21 L46.70 286.13 L47.20 286.05 L47.70 285.97 L48.20 285.88 L48.70 285.79 L49.20 285.70 L49.70 285.60 L50.20 285.50 L50.70 285.40 L51.20 285.29 L51.70 285.18 L52.20 285.06 L52.70 284.95 L53.20 284.83 L53.70 284.70 L54.20 284.58 L54.70 284.45 L55.20 284.32 L55.70 284.18 L56.20 284.04 L56.70 283.90 L57.20 283.76 L57.70 283.61 L58.20 283.46 L58.70 283.31 L59.20 283.16 L59.70 283.01 L60.20 282.85 L60.70 282.69 L61.20 282.53 L61.70 282.37 L62.20 282.21 L62.70 282.05 L63.20 281.88 L63.70 281.72 L64.20 281.55 L64.70 281.39 L65.20 281.23 L65.70 281.06 L66.20 280.90 L66.70 280.74 L67.20 280.57 L67.70 280.41 L68.20 280.25 L68.70 280.09 L69.20 279.94 L69.70 279.78 L70.20 279.63 L70.70 279.48 L71.20 279.33 L71.70 279.19 L72.20 279.04 L72.70 278.90 L73.20 278.76 L73.70 278.63 L74.20 278.50 L74.70 278.37 L75.20 278.24 L75.70 278.11 L76.20 277.99 L76.70 277.87 L77.20 277.76 L77.70 277.64 L78.20 277.53 L78.70 277.42 L79.20 277.31 L79.70 277.21 L80.20 277.11 L80.70 277.00 L81.20 276.90 L81.70 276.80 L82.20 276.71 L82.70 276.61 L83.20 276.51 L83.70 276.41 L84.20 276.32 L84.70 276.22 L85.20 276.12 L85.70 276.02 L86.20 275.92 L86.70 275.81 L87.20 275.71 L87.70 275.60 L88.20 275.48 L88.70 275.37 L89.20 275.25 L89.70 275.12 L90.20 275.00 L90.70 274.86 L91.20 274.72 L91.70 274.58 L92.20 274.42 L92.70 274.26 L93.20 274.10 L93.70 273.92 L94.20 273.74 L94.70 273.55 L95.20 273.35 L95.70 273.15 L96.20 272.93 L96.70 272.70 L97.20 272.46 L97.70 272.22 L98.20 271.96 L98.70 271.69 L99.20 271.41 L99.70 271.12 L100.20 270.82 L100.70 270.50 L101.20 270.18 L101.70 269.84 L102.20 269.49 L102.70 269.13 L103.20 268.75 L103.70 268.36 L104.20 267.96 L104.70 267.55 L105.20 267.13 L105.70 266.69 L106.20 266.24 L106.70 265.77 L107.20 265.30 L107.70 264.81 L108.20 264.31 L108.70 263.80 L109.20 263.28 L109.70 262.74 L110.20 262.20 L110.70 261.64 L111.20 261.07 L111.70 260.49 L112.20 259.90 L112.70 259.30 L113.20 258.69 L113.70 258.07 L114.20 257.45 L114.70 256.81 L115.20 256.17 L115.70 255.52 L116.20 254.86 L116.70 254.20 L117.20 253.53 L117.70 252.86 L118.20 252.18 L118.70 251.50 L119.20 250.82 L119.70 250.13 L120.20 249.44 L120.70 248.75 L121.20 248.06 L121.70 247.37 L122.20 246.68 L122.70 245.99 L123.20 245.31 L123.70 244.62 L124.20 243.95 L124.70 243.27 L125.20 242.61 L125.70 241.95 L126.20 241.30 L126.70 240.65 L127.20 240.02 L127.70 239.40 L128.20 238.78 L128.70 238.18 L129.20 237.60 L129.70 237.02 L130.20 236.46 L130.70 235.92 L131.20 235.39 L131.70 234.88 L132.20 234.38 L132.70 233.91 L133.20 233.45 L133.70 233.02 L134.20 232.60 L134.70 232.21 L135.20 231.84 L135.70 231.49 L136.20 231.16 L136.70 230.86 L137.20 230.59 L137.70 230.34 L138.20 230.11 L138.70 229.92 L139.20 229.74 L139.70 229.60 L140.20 229.48 L140.70 229.40 L141.20 229.34 L141.70 229.30 L142.20 229.30 L142.70 229.33 L143.20 229.38 L143.70 229.47 L144.20 229.58 L144.70 229.72 L145.20 229.89 L145.70 230.09 L146.20 230.32 L146.70 230.58 L147.20 230.86 L147.70 231.17 L148.20 231.51 L148.70 231.88 L149.20 232.27 L149.70 232.69 L150.20 233.14 L150.70 233.61 L151.20 234.10 L151.70 234.62 L152.20 235.16 L152.70 235.72 L153.20 236.31 L153.70 236.91 L154.20 237.54 L154.70 238.18 L155.20 238.85 L155.70 239.53 L156.20 240.23 L156.70 240.94 L157.20 241.67 L157.70 242.41 L158.20 243.17 L158.70 243.94 L159.20 244.72 L159.70 245.51 L160.20 246.31 L160.70 247.12 L161.20 247.94 L161.70 248.76 L162.20 249.60 L162.70 250.43 L163.20 251.27 L163.70 252.11 L164.20 252.96 L164.70 253.81 L165.20 254.66 L165.70 255.51 L166.20 256.35 L166.70 257.20 L167.20 258.05 L167.70 258.89 L168.20 259.73 L168.70 260.56 L169.20 261.39 L169.70 262.21 L170.20 263.03 L170.70 263.84 L171.20 264.64 L171.70 265.43 L172.20 266.22 L172.70 266.99 L173.20 267.76 L173.70 268.52 L174.20 269.26 L174.70 270.00 L175.20 270.72 L175.70 271.44 L176.20 272.14 L176.70 272.83 L177.20 273.50 L177.70 274.17 L178.20 274.82 L178.70 275.46 L179.20 276.08 L179.70 276.69 L180.20 277.29 L180.70 277.88 L181.20 278.45 L181.70 279.01 L182.20 279.55 L182.70 280.08 L183.20 280.60 L183.70 281.10 L184.20 281.59 L184.70 282.07 L185.20 282.53 L185.70 282.98 L186.20 283.42 L186.70 283.84 L187.20 284.25 L187.70 284.65 L188.20 285.03 L188.70 285.41 L189.20 285.77 L189.70 286.12 L190.20 286.45 L190.70 286.78 L191.20 287.09 L191.70 287.39 L192.20 287.68 L192.70 287.97 L193.20 288.24 L193.70 288.50 L194.20 288.75 L194.70 288.99 L195.20 289.22 L195.70 289.44 L196.20 289.65 L196.70 289.86 L197.20 290.05 L197.70 290.24 L198.20 290.42 L198.70 290.59 L199.20 290.75 L199.70 290.91 L200.20 291.06 L200.70 291.20 L201.20 291.34 L201.70 291.47 L202.20 291.60 L202.70 291.71 L203.20 291.83 L203.70 291.94 L204.20 292.04 L204.70 292.13 L205.20 292.23 L205.70 292.32 L206.20 292.40 L206.70 292.48 L207.20 292.55 L207.70 292.62 L208.20 292.69 L208.70 292.76 L209.20 292.82 L209.70 292.88 L210.20 292.93 L210.70 292.98 L211.20 293.03 L211.70 293.08 L212.20 293.12 L212.70 293.16 L213.20 293.20 L213.70 293.24 L214.20 293.27 L214.70 293.30 L215.20 293.34 L215.70 293.36 L216.20 293.39 L216.70 293.42 L217.20 293.44 L217.70 293.47 L218.20 293.49 L218.70 293.51 L219.20 293.53 L219.70 293.55 L220.20 293.56 L220.70 293.58 L221.20 293.59 L221.70 293.61 L222.20 293.62 L222.70 293.64 L223.20 293.65 L223.70 293.66 L224.20 293.67 L224.70 293.68 L225.20 293.69 L225.70 293.70 L226.20 293.71 L226.70 293.71 L227.20 293.72 L227.70 293.73 L228.20 293.74 L228.70 293.74 L229.20 293.75 L229.70 293.75 L230.20 293.76 L230.70 293.76 L231.20 293.77 L231.70 293.77 L232.20 293.78 L232.70 293.78 L233.20 293.79 L233.70 293.79 L234.20 293.79 L234.70 293.80 L235.20 293.80 L235.70 293.81 L236.20 293.81 L236.70 293.81 L237.20 293.81 L237.70 293.82 L238.20 293.82 L238.70 293.82 L239.20 293.82 L239.70 293.83 L240.20 293.83 L240.70 293.83 L241.20 293.83 L241.70 293.84 L242.20 293.84 L242.70 293.84 L243.20 293.84 L243.70 293.84 L244.20 293.85 L244.70 293.85 L245.20 293.85 L245.70 293.85 L246.20 293.85 L246.70 293.85 L247.20 293.86 L247.70 293.86 L248.20 293.86 L248.70 293.86 L249.20 293.86 L249.70 293.86 L250.20 293.86 L250.70 293.87 L251.20 293.87 L251.70 293.87 L252.20 293.87 L252.70 293.87 L253.20 293.87 L253.70 293.87 L254.20 293.87 L254.70 293.88 L255.20 293.88 L255.70 293.88 L256.20 293.88 L256.70 293.88 L257.20 293.88 L257.70 293.88" fill="none" stroke="#dda11c" stroke-width="1.2"/>
<path d="M36.20 374.37 L36.70 374.36 L37.20 374.36 L37.70 374.36 L38.20 374.35 L38.70 374.35 L39.20 374.34 L39.70 374.34 L40.20 374.33 L40.70 374.32 L41.20 374.32 L41.70 374.31 L42.20 374.30 L42.70 374.29 L43.20 374.28 L43.70 374.27 L44.20 374.26 L44.70 374.25 L45.20 374.24 L45.70 374.22 L46.20 374.21 L46.70 374.19 L47.20 374.18 L47.70 374.16 L48.20 374.14 L48.70 374.12 L49.20 374.10 L49.70 374.08 L50.20 374.05 L50.70 374.03 L51.20 374.00 L51.70 373.97 L52.20 373.94 L52.70 373.91 L53.20 373.88 L53.70 373.84 L54.20 373.81 L54.70 373.77 L55.20 373.73 L55.70 373.68 L56.20 373.64 L56.70 373.59 L57.20 373.55 L57.70 373.50 L58.20 373.44 L58.70 373.39 L59.20 373.33 L59.70 373.28 L60.20 373.22 L60.70 373.15 L61.20 373.09 L61.70 373.02 L62.20 372.96 L62.70 372.89 L63.20 372.81 L63.70 372.74 L64.20 372.67 L64.70 372.59 L65.20 372.51 L65.70 372.43 L66.20 372.35 L66.70 372.27 L67.20 372.19 L67.70 372.10 L68.20 372.02 L68.70 371.93 L69.20 371.85 L69.70 371.76 L70.20 371.67 L70.70 371.59 L71.20 371.50 L71.70 371.41 L72.20 371.33 L72.70 371.24 L73.20 371.16 L73.70 371.08 L74.20 370.99 L74.70 370.91 L75.20 370.83 L75.70 370.75 L76.20 370.68 L76.70 370.61 L77.20 370.53 L77.70 370.47 L78.20 370.40 L78.70 370.34 L79.20 370.28 L79.70 370.22 L80.20 370.17 L80.70 370.12 L81.20 370.07 L81.70 370.03 L82.20 369.99 L82.70 369.96 L83.20 369.93 L83.70 369.90 L84.20 369.88 L84.70 369.86 L85.20 369.85 L85.70 369.84 L86.20 369.84 L86.70 369.84 L87.20 369.85 L87.70 369.86 L88.20 369.87 L88.70 369.89 L89.20 369.91 L89.70 369.94 L90.20 369.98 L90.70 370.01 L91.20 370.05 L91.70 370.10 L92.20 370.15 L92.70 370.20 L93.20 370.26 L93.70 370.32 L94.20 370.38 L94.70 370.45 L95.20 370.52 L95.70 370.59 L96.20 370.66 L96.70 370.74 L97.20 370.82 L97.70 370.90 L98.20 370.99 L98.70 371.07 L99.20 371.16 L99.70 371.25 L100.20 371.34 L100.70 371.43 L101.20 371.52 L101.70 371.62 L102.20 371.71 L102.70 371.80 L103.20 371.90 L103.70 371.99 L104.20 372.09 L104.70 372.18 L105.20 372.27 L105.70 372.37 L106.20 372.46 L106.70 372.55 L107.20 372.64 L107.70 372.73 L108.20 372.82 L108.70 372.90 L109.20 372.99 L109.70 373.07 L110.20 373.16 L110.70 373.24 L111.20 373.32 L111.70 373.40 L112.20 373.47 L112.70 373.55 L113.20 373.62 L113.70 373.70 L114.20 373.77 L114.70 373.84 L115.20 373.90 L115.70 373.97 L116.20 374.03 L116.70 374.10 L117.20 374.16 L117.70 374.22 L118.20 374.28 L118.70 374.33 L119.20 374.39 L119.70 374.44 L120.20 374.50 L120.70 374.55 L121.20 374.60 L121.70 374.65 L122.20 374.70 L122.70 374.74 L123.20 374.79 L123.70 374.84 L124.20 374.88 L124.70 374.92 L125.20 374.97 L125.70 375.01 L126.20 375.05 L126.70 375.09 L127.20 375.13 L127.70 375.17 L128.20 375.21 L128.70 375.25 L129.20 375.29 L129.70 375.33 L130.20 375.37 L130.70 375.40 L131.20 375.44 L131.70 375.48 L132.20 375.51 L132.70 375.55 L133.20 375.59 L133.70 375.62 L134.20 375.66 L134.70 375.70 L135.20 375.73 L135.70 375.77 L136.20 375.80 L136.70 375.84 L137.20 375.88 L137.70 375.91 L138.20 375.95 L138.70 375.98 L139.20 376.02 L139.70 376.05 L140.20 376.09 L140.70 376.13 L141.20 376.16 L141.70 376.20 L142.20 376.23 L142.70 376.27 L143.20 376.31 L143.70 376.34 L144.20 376.38 L144.70 376.41 L145.20 376.45 L145.70 376.48 L146.20 376.52 L146.70 376.55 L147.20 376.59 L147.70 376.62 L148.20 376.66 L148.70 376.69 L149.20 376.73 L149.70 376.76 L150.20 376.80 L150.70 376.83 L151.20 376.87 L151.70 376.90 L152.20 376.93 L152.70 376.97 L153.20 377.00 L153.70 377.03 L154.20 377.06 L154.70 377.10 L155.20 377.13 L155.70 377.16 L156.20 377.19 L156.70 377.22 L157.20 377.25 L157.70 377.28 L158.20 377.31 L158.70 377.34 L159.20 377.37 L159.70 377.40 L160.20 377.43 L160.70 377.46 L161.20 377.49 L161.70 377.51 L162.20 377.54 L162.70 377.57 L163.20 377.59 L163.70 377.62 L164.20 377.64 L164.70 377.67 L165.20 377.69 L165.70 377.71 L166.20 377.74 L166.70 377.76 L167.20 377.78 L167.70 377.80 L168.20 377.83 L168.70 377.85 L169.20 377.87 L169.70 377.89 L170.20 377.91 L170.70 377.93 L171.20 377.94 L171.70 377.96 L172.20 377.98 L172.70 378.00 L173.20 378.02 L173.70 378.03 L174.20 378.05 L174.70 378.06 L175.20 378.08 L175.70 378.09 L176.20 378.11 L176.70 378.12 L177.20 378.14 L177.70 378.15 L178.20 378.16 L178.70 378.17 L179.20 378.19 L179.70 378.20 L180.20 378.21 L180.70 378.22 L181.20 378.23 L181.70 378.24 L182.20 378.25 L182.70 378.26 L183.20 378.27 L183.70 378.28 L184.20 378.29 L184.70 378.30 L185.20 378.31 L185.70 378.31 L186.20 378.32 L186.70 378.33 L187.20 378.33 L187.70 378.34 L188.20 378.35 L188.70 378.35 L189.20 378.36 L189.70 378.37 L190.20 378.37 L190.70 378.38 L191.20 378.38 L191.70 378.39 L192.20 378.39 L192.70 378.40 L193.20 378.40 L193.70 378.40 L194.20 378.41 L194.70 378.41 L195.20 378.42 L195.70 378.42 L196.20 378.42 L196.70 378.43 L197.20 378.43 L197.70 378.43 L198.20 378.44 L198.70 378.44 L199.20 378.44 L199.70 378.44 L200.20 378.45 L200.70 378.45 L201.20 378.45 L201.70 378.45 L202.20 378.45 L202.70 378.46 L203.20 378.46 L203.70 378.46 L204.20 378.46 L204.70 378.46 L205.20 378.46 L205.70 378.47 L206.20 378.47 L206.70 378.47 L207.20 378.47 L207.70 378.47 L208.20 378.47 L208.70 378.47 L209.20 378.47 L209.70 378.47 L210.20 378.48 L210.70 378.48 L211.20 378.48 L211.70 378.48 L212.20 378.48 L212.70 378.48 L213.20 378.48 L213.70 378.48 L214.20 378.48 L214.70 378.48 L215.20 378.48 L215.70 378.48 L216.20 378.48 L216.70 378.48 L217.20 378.48 L217.70 378.49 L218.20 378.49 L218.70 378.49 L219.20 378.49 L219.70 378.49 L220.20 378.49 L220.70 378.49 L221.20 378.49 L221.70 378.49 L222.20 378.49 L222.70 378.49 L223.20 378.49 L223.70 378.49 L224.20 378.49 L224.70 378.49 L225.20 378.49 L225.70 378.49 L226.20 378.49 L226.70 378.49 L227.20 378.49 L227.70 378.49 L228.20 378.49 L228.70 378.49 L229.20 378.49 L229.70 378.49 L230.20 378.49 L230.70 378.49 L231.20 378.49 L231.70 378.49 L232.20 378.49 L232.70 378.49 L233.20 378.49 L233.70 378.49 L234.20 378.49 L234.70 378.49 L235.20 378.49 L235.70 378.49 L236.20 378.49 L236.70 378.49 L237.20 378.50 L237.70 378.50 L238.20 378.50 L238.70 378.50 L239.20 378.50 L239.70 378.50 L240.20 378.50 L240.70 378.50 L241.20 378.50 L241.70 378.50 L242.20 378.50 L242.70 378.50 L243.20 378.50 L243.70 378.50 L244.20 378.50 L244.70 378.50 L245.20 378.50 L245.70 378.50 L246.20 378.50 L246.70 378.50 L247.20 378.50 L247.70 378.50 L248.20 378.50 L248.70 378.50 L249.20 378.50 L249.70 378.50 L250.20 378.50 L250.70 378.50 L251.20 378.50 L251.70 378.50 L252.20 378.50 L252.70 378.50 L253.20 378.50 L253.70 378.50 L254.20 378.50 L254.70 378.50 L255.20 378.50 L255.70 378.50 L256.20 378.50 L256.70 378.50 L257.20 378.50 L257.70 378.50" fill="none" stroke="#3a7fdc" stroke-width="1.2"/>
<path d="M36.20 374.31 L36.70 374.31 L37.20 374.30 L37.70 374.30 L38.20 374.29 L38.70 374.28 L39.20 374.28 L39.70 374.27 L40.20 374.26 L40.70 374.26 L41.20 374.25 L41.70 374.24 L42.20 374.23 L42.70 374.23 L43.20 374.22 L43.70 374.21 L44.20 374.20 L44.70 374.19 L45.20 374.18 L45.70 374.17 L46.20 374.15 L46.70 374.14 L47.20 374.13 L47.70 374.12 L48.20 374.10 L48.70 374.09 L49.20 374.08 L49.70 374.06 L50.20 374.04 L50.70 374.03 L51.20 374.01 L51.70 373.99 L52.20 373.97 L52.70 373.96 L53.20 373.94 L53.70 373.92 L54.20 373.89 L54.70 373.87 L55.20 373.85 L55.70 373.83 L56.20 373.80 L56.70 373.78 L57.20 373.75 L57.70 373.73 L58.20 373.70 L58.70 373.67 L59.20 373.64 L59.70 373.61 L60.20 373.58 L60.70 373.55 L61.20 373.51 L61.70 373.48 L62.20 373.45 L62.70 373.41 L63.20 373.37 L63.70 373.34 L64.20 373.30 L64.70 373.26 L65.20 373.22 L65.70 373.17 L66.20 373.13 L66.70 373.09 L67.20 373.04 L67.70 373.00 L68.20 372.95 L68.70 372.90 L69.20 372.85 L69.70 372.80 L70.20 372.75 L70.70 372.70 L71.20 372.65 L71.70 372.59 L72.20 372.54 L72.70 372.48 L73.20 372.42 L73.70 372.36 L74.20 372.30 L74.70 372.24 L75.20 372.18 L75.70 372.12 L76.20 372.06 L76.70 371.99 L77.20 371.93 L77.70 371.86 L78.20 371.79 L78.70 371.73 L79.20 371.66 L79.70 371.59 L80.20 371.52 L80.70 371.45 L81.20 371.38 L81.70 371.30 L82.20 371.23 L82.70 371.16 L83.20 371.08 L83.70 371.01 L84.20 370.93 L84.70 370.86 L85.20 370.78 L85.70 370.71 L86.20 370.63 L86.70 370.56 L87.20 370.48 L87.70 370.40 L88.20 370.33 L88.70 370.25 L89.20 370.17 L89.70 370.10 L90.20 370.02 L90.70 369.94 L91.20 369.87 L91.70 369.79 L92.20 369.72 L92.70 369.64 L93.20 369.57 L93.70 369.50 L94.20 369.42 L94.70 369.35 L95.20 369.28 L95.70 369.21 L96.20 369.14 L96.70 369.07 L97.20 369.01 L97.70 368.94 L98.20 368.88 L98.70 368.81 L99.20 368.75 L99.70 368.69 L100.20 368.63 L100.70 368.57 L101.20 368.52 L101.70 368.46 L102.20 368.41 L102.70 368.36 L103.20 368.31 L103.70 368.26 L104.20 368.22 L104.70 368.17 L105.20 368.13 L105.70 368.10 L106.20 368.06 L106.70 368.02 L107.20 367.99 L107.70 367.96 L108.20 367.94 L108.70 367.91 L109.20 367.89 L109.70 367.87 L110.20 367.85 L110.70 367.84 L111.20 367.82 L111.70 367.82 L112.20 367.81 L112.70 367.80 L113.20 367.80 L113.70 367.81 L114.20 367.81 L114.70 367.82 L115.20 367.83 L115.70 367.84 L116.20 367.85 L116.70 367.87 L117.20 367.89 L117.70 367.92 L118.20 367.94 L118.70 367.97 L119.20 368.01 L119.70 368.04 L120.20 368.08 L120.70 368.12 L121.20 368.16 L121.70 368.21 L122.20 368.26 L122.70 368.31 L123.20 368.37 L123.70 368.42 L124.20 368.48 L124.70 368.54 L125.20 368.61 L125.70 368.68 L126.20 368.74 L126.70 368.82 L127.20 368.89 L127.70 368.97 L128.20 369.04 L128.70 369.13 L129.20 369.21 L129.70 369.29 L130.20 369.38 L130.70 369.47 L131.20 369.56 L131.70 369.65 L132.20 369.74 L132.70 369.84 L133.20 369.94 L133.70 370.04 L134.20 370.14 L134.70 370.24 L135.20 370.34 L135.70 370.44 L136.20 370.55 L136.70 370.66 L137.20 370.76 L137.70 370.87 L138.20 370.98 L138.70 371.09 L139.20 371.20 L139.70 371.31 L140.20 371.42 L140.70 371.53 L141.20 371.65 L141.70 371.76 L142.20 371.87 L142.70 371.99 L143.20 372.10 L143.70 372.21 L144.20 372.33 L144.70 372.44 L145.20 372.55 L145.70 372.67 L146.20 372.78 L146.70 372.89 L147.20 373.00 L147.70 373.11 L148.20 373.22 L148.70 373.33 L149.20 373.44 L149.70 373.55 L150.20 373.66 L150.70 373.77 L151.20 373.87 L151.70 373.98 L152.20 374.08 L152.70 374.19 L153.20 374.29 L153.70 374.39 L154.20 374.49 L154.70 374.59 L155.20 374.69 L155.70 374.79 L156.20 374.88 L156.70 374.98 L157.20 375.07 L157.70 375.16 L158.20 375.25 L158.70 375.34 L159.20 375.43 L159.70 375.51 L160.20 375.60 L160.70 375.68 L161.20 375.76 L161.70 375.84 L162.20 375.92 L162.70 376.00 L163.20 376.07 L163.70 376.15 L164.20 376.22 L164.70 376.29 L165.20 376.36 L165.70 376.43 L166.20 376.49 L166.70 376.56 L167.20 376.62 L167.70 376.69 L168.20 376.75 L168.70 376.80 L169.20 376.86 L169.70 376.92 L170.20 376.97 L170.70 377.03 L171.20 377.08 L171.70 377.13 L172.20 377.18 L172.70 377.23 L173.20 377.27 L173.70 377.32 L174.20 377.36 L174.70 377.41 L175.20 377.45 L175.70 377.49 L176.20 377.53 L176.70 377.56 L177.20 377.60 L177.70 377.64 L178.20 377.67 L178.70 377.70 L179.20 377.73 L179.70 377.77 L180.20 377.80 L180.70 377.82 L181.20 377.85 L181.70 377.88 L182.20 377.91 L182.70 377.93 L183.20 377.95 L183.70 377.98 L184.20 378.00 L184.70 378.02 L185.20 378.04 L185.70 378.06 L186.20 378.08 L186.70 378.10 L187.20 378.12 L187.70 378.14 L188.20 378.15 L188.70 378.17 L189.20 378.18 L189.70 378.20 L190.20 378.21 L190.70 378.22 L191.20 378.24 L191.70 378.25 L192.20 378.26 L192.70 378.27 L193.20 378.28 L193.70 378.29 L194.20 378.30 L194.70 378.31 L195.20 378.32 L195.70 378.33 L196.20 378.34 L196.70 378.35 L197.20 378.35 L197.70 378.36 L198.20 378.37 L198.70 378.37 L199.20 378.38 L199.70 378.39 L200.20 378.39 L200.70 378.40 L201.20 378.40 L201.70 378.41 L202.20 378.41 L202.70 378.42 L203.20 378.42 L203.70 378.42 L204.20 378.43 L204.70 378.43 L205.20 378.43 L205.70 378.44 L206.20 378.44 L206.70 378.44 L207.20 378.45 L207.70 378.45 L208.20 378.45 L208.70 378.45 L209.20 378.46 L209.70 378.46 L210.20 378.46 L210.70 378.46 L211.20 378.46 L211.70 378.46 L212.20 378.47 L212.70 378.47 L213.20 378.47 L213.70 378.47 L214.20 378.47 L214.70 378.47 L215.20 378.47 L215.70 378.48 L216.20 378.48 L216.70 378.48 L217.20 378.48 L217.70 378.48 L218.20 378.48 L218.70 378.48 L219.20 378.48 L219.70 378.48 L220.20 378.48 L220.70 378.48 L221.20 378.48 L221.70 378.48 L222.20 378.49 L222.70 378.49 L223.20 378.49 L223.70 378.49 L224.20 378.49 L224.70 378.49 L225.20 378.49 L225.70 378.49 L226.20 378.49 L226.70 378.49 L227.20 378.49 L227.70 378.49 L228.20 378.49 L228.70 378.49 L229.20 378.49 L229.70 378.49 L230.20 378.49 L230.70 378.49 L231.20 378.49 L231.70 378.49 L232.20 378.49 L232.70 378.49 L233.20 378.49 L233.70 378.49 L234.20 378.49 L234.70 378.49 L235.20 378.49 L235.70 378.49 L236.20 378.49 L236.70 378.49 L237.20 378.49 L237.70 378.49 L238.20 378.50 L238.70 378.50 L239.20 378.50 L239.70 378.50 L240.20 378.50 L240.70 378.50 L241.20 378.50 L241.70 378.50 L242.20 378.50 L242.70 378.50 L243.20 378.50 L243.70 378.50 L244.20 378.50 L244.70 378.50 L245.20 378.50 L245.70 378.50 L246.20 378.50 L246.70 378.50 L247.20 378.50 L247.70 378.50 L248.20 378.50 L248.70 378.50 L249.20 378.50 L249.70 378.50 L250.20 378.50 L250.70 378.50 L251.20 378.50 L251.70 378.50 L252.20 378.50 L252.70 378.50 L253.20 378.50 L253.70 378.50 L254.20 378.50 L254.70 378.50 L255.20 378.50 L255.70 378.50 L256.20 378.50 L256.70 378.50 L257.20 378.50 L257.70 378.50" fill="none" stroke="#46b07a" stroke-width="1.2"/>
<path d="M36.20 374.24 L36.70 374.24 L37.20 374.24 L37.70 374.23 L38.20 374.23 L38.70 374.23 L39.20 374.23 L39.70 374.23 L40.20 374.23 L40.70 374.22 L41.20 374.22 L41.70 374.22 L42.20 374.22 L42.70 374.22 L43.20 374.22 L43.70 374.21 L44.20 374.21 L44.70 374.21 L45.20 374.21 L45.70 374.21 L46.20 374.20 L46.70 374.20 L47.20 374.20 L47.70 374.20 L48.20 374.19 L48.70 374.19 L49.20 374.19 L49.70 374.19 L50.20 374.18 L50.70 374.18 L51.20 374.18 L51.70 374.18 L52.20 374.17 L52.70 374.17 L53.20 374.16 L53.70 374.16 L54.20 374.16 L54.70 374.15 L55.20 374.15 L55.70 374.14 L56.20 374.14 L56.70 374.13 L57.20 374.13 L57.70 374.12 L58.20 374.12 L58.70 374.11 L59.20 374.11 L59.70 374.10 L60.20 374.09 L60.70 374.08 L61.20 374.08 L61.70 374.07 L62.20 374.06 L62.70 374.05 L63.20 374.04 L63.70 374.03 L64.20 374.02 L64.70 374.01 L65.20 374.00 L65.70 373.98 L66.20 373.97 L66.70 373.95 L67.20 373.94 L67.70 373.92 L68.20 373.91 L68.70 373.89 L69.20 373.87 L69.70 373.85 L70.20 373.83 L70.70 373.80 L71.20 373.78 L71.70 373.75 L72.20 373.73 L72.70 373.70 L73.20 373.67 L73.70 373.64 L74.20 373.60 L74.70 373.57 L75.20 373.53 L75.70 373.49 L76.20 373.45 L76.70 373.41 L77.20 373.36 L77.70 373.31 L78.20 373.26 L78.70 373.21 L79.20 373.15 L79.70 373.09 L80.20 373.03 L80.70 372.96 L81.20 372.89 L81.70 372.82 L82.20 372.74 L82.70 372.66 L83.20 372.58 L83.70 372.49 L84.20 372.39 L84.70 372.30 L85.20 372.19 L85.70 372.09 L86.20 371.98 L86.70 371.86 L87.20 371.74 L87.70 371.61 L88.20 371.47 L88.70 371.33 L89.20 371.19 L89.70 371.03 L90.20 370.88 L90.70 370.71 L91.20 370.54 L91.70 370.36 L92.20 370.17 L92.70 369.98 L93.20 369.78 L93.70 369.57 L94.20 369.35 L94.70 369.12 L95.20 368.89 L95.70 368.64 L96.20 368.39 L96.70 368.13 L97.20 367.86 L97.70 367.58 L98.20 367.29 L98.70 366.99 L99.20 366.68 L99.70 366.36 L100.20 366.04 L100.70 365.70 L101.20 365.35 L101.70 364.99 L102.20 364.62 L102.70 364.24 L103.20 363.85 L103.70 363.44 L104.20 363.03 L104.70 362.61 L105.20 362.17 L105.70 361.72 L106.20 361.27 L106.70 360.80 L107.20 360.32 L107.70 359.83 L108.20 359.33 L108.70 358.82 L109.20 358.30 L109.70 357.77 L110.20 357.23 L110.70 356.67 L111.20 356.11 L111.70 355.54 L112.20 354.96 L112.70 354.37 L113.20 353.77 L113.70 353.16 L114.20 352.54 L114.70 351.92 L115.20 351.29 L115.70 350.65 L116.20 350.00 L116.70 349.35 L117.20 348.69 L117.70 348.02 L118.20 347.35 L118.70 346.68 L119.20 346.00 L119.70 345.32 L120.20 344.63 L120.70 343.94 L121.20 343.25 L121.70 342.56 L122.20 341.87 L122.70 341.18 L123.20 340.49 L123.70 339.79 L124.20 339.11 L124.70 338.42 L125.20 337.74 L125.70 337.06 L126.20 336.39 L126.70 335.72 L127.20 335.06 L127.70 334.40 L128.20 333.76 L128.70 333.12 L129.20 332.49 L129.70 331.87 L130.20 331.26 L130.70 330.67 L131.20 330.08 L131.70 329.51 L132.20 328.96 L132.70 328.42 L133.20 327.89 L133.70 327.38 L134.20 326.88 L134.70 326.41 L135.20 325.95 L135.70 325.51 L136.20 325.09 L136.70 324.69 L137.20 324.31 L137.70 323.96 L138.20 323.62 L138.70 323.31 L139.20 323.02 L139.70 322.75 L140.20 322.51 L140.70 322.29 L141.20 322.09 L141.70 321.92 L142.20 321.78 L142.70 321.66 L143.20 321.57 L143.70 321.50 L144.20 321.46 L144.70 321.44 L145.20 321.46 L145.70 321.49 L146.20 321.56 L146.70 321.65 L147.20 321.76 L147.70 321.90 L148.20 322.07 L148.70 322.26 L149.20 322.48 L149.70 322.73 L150.20 322.99 L150.70 323.29 L151.20 323.60 L151.70 323.94 L152.20 324.30 L152.70 324.69 L153.20 325.09 L153.70 325.52 L154.20 325.97 L154.70 326.44 L155.20 326.92 L155.70 327.43 L156.20 327.96 L156.70 328.50 L157.20 329.06 L157.70 329.63 L158.20 330.22 L158.70 330.83 L159.20 331.44 L159.70 332.07 L160.20 332.72 L160.70 333.37 L161.20 334.04 L161.70 334.71 L162.20 335.40 L162.70 336.09 L163.20 336.79 L163.70 337.50 L164.20 338.21 L164.70 338.93 L165.20 339.65 L165.70 340.38 L166.20 341.11 L166.70 341.84 L167.20 342.58 L167.70 343.31 L168.20 344.05 L168.70 344.78 L169.20 345.51 L169.70 346.25 L170.20 346.98 L170.70 347.70 L171.20 348.43 L171.70 349.14 L172.20 349.86 L172.70 350.57 L173.20 351.27 L173.70 351.97 L174.20 352.66 L174.70 353.34 L175.20 354.02 L175.70 354.69 L176.20 355.35 L176.70 356.00 L177.20 356.64 L177.70 357.28 L178.20 357.90 L178.70 358.51 L179.20 359.12 L179.70 359.71 L180.20 360.29 L180.70 360.87 L181.20 361.43 L181.70 361.98 L182.20 362.52 L182.70 363.05 L183.20 363.56 L183.70 364.07 L184.20 364.56 L184.70 365.05 L185.20 365.52 L185.70 365.98 L186.20 366.42 L186.70 366.86 L187.20 367.29 L187.70 367.70 L188.20 368.10 L188.70 368.50 L189.20 368.88 L189.70 369.25 L190.20 369.60 L190.70 369.95 L191.20 370.29 L191.70 370.62 L192.20 370.93 L192.70 371.24 L193.20 371.53 L193.70 371.82 L194.20 372.10 L194.70 372.36 L195.20 372.62 L195.70 372.87 L196.20 373.11 L196.70 373.34 L197.20 373.56 L197.70 373.78 L198.20 373.99 L198.70 374.18 L199.20 374.37 L199.70 374.56 L200.20 374.73 L200.70 374.90 L201.20 375.06 L201.70 375.22 L202.20 375.37 L202.70 375.51 L203.20 375.65 L203.70 375.78 L204.20 375.90 L204.70 376.02 L205.20 376.14 L205.70 376.24 L206.20 376.35 L206.70 376.45 L207.20 376.54 L207.70 376.63 L208.20 376.72 L208.70 376.80 L209.20 376.88 L209.70 376.95 L210.20 377.03 L210.70 377.09 L211.20 377.16 L211.70 377.22 L212.20 377.28 L212.70 377.33 L213.20 377.38 L213.70 377.43 L214.20 377.48 L214.70 377.52 L215.20 377.57 L215.70 377.61 L216.20 377.64 L216.70 377.68 L217.20 377.71 L217.70 377.75 L218.20 377.78 L218.70 377.81 L219.20 377.83 L219.70 377.86 L220.20 377.88 L220.70 377.91 L221.20 377.93 L221.70 377.95 L222.20 377.97 L222.70 377.99 L223.20 378.00 L223.70 378.02 L224.20 378.04 L224.70 378.05 L225.20 378.07 L225.70 378.08 L226.20 378.09 L226.70 378.10 L227.20 378.12 L227.70 378.13 L228.20 378.14 L228.70 378.15 L229.20 378.15 L229.70 378.16 L230.20 378.17 L230.70 378.18 L231.20 378.19 L231.70 378.19 L232.20 378.20 L232.70 378.21 L233.20 378.21 L233.70 378.22 L234.20 378.22 L234.70 378.23 L235.20 378.23 L235.70 378.24 L236.20 378.24 L236.70 378.25 L237.20 378.25 L237.70 378.26 L238.20 378.26 L238.70 378.26 L239.20 378.27 L239.70 378.27 L240.20 378.27 L240.70 378.28 L241.20 378.28 L241.70 378.28 L242.20 378.29 L242.70 378.29 L243.20 378.29 L243.70 378.29 L244.20 378.30 L244.70 378.30 L245.20 378.30 L245.70 378.30 L246.20 378.31 L246.70 378.31 L247.20 378.31 L247.70 378.31 L248.20 378.31 L248.70 378.32 L249.20 378.32 L249.70 378.32 L250.20 378.32 L250.70 378.32 L251.20 378.33 L251.70 378.33 L252.20 378.33 L252.70 378.33 L253.20 378.33 L253.70 378.33 L254.20 378.34 L254.70 378.34 L255.20 378.34 L255.70 378.34 L256.20 378.34 L256.70 378.34 L257.20 378.35 L257.70 378.35" fill="none" stroke="#ee4b47" stroke-width="1.2"/>
<path d="M36.20 374.40 L36.70 374.40 L37.20 374.40 L37.70 374.40 L38.20 374.40 L38.70 374.40 L39.20 374.40 L39.70 374.40 L40.20 374.40 L40.70 374.40 L41.20 374.40 L41.70 374.40 L42.20 374.40 L42.70 374.40 L43.20 374.40 L43.70 374.40 L44.20 374.40 L44.70 374.40 L45.20 374.40 L45.70 374.40 L46.20 374.40 L46.70 374.40 L47.20 374.40 L47.70 374.40 L48.20 374.40 L48.70 374.40 L49.20 374.40 L49.70 374.40 L50.20 374.40 L50.70 374.40 L51.20 374.40 L51.70 374.40 L52.20 374.40 L52.70 374.40 L53.20 374.40 L53.70 374.40 L54.20 374.40 L54.70 374.40 L55.20 374.40 L55.70 374.41 L56.20 374.41 L56.70 374.41 L57.20 374.41 L57.70 374.41 L58.20 374.41 L58.70 374.41 L59.20 374.41 L59.70 374.41 L60.20 374.41 L60.70 374.41 L61.20 374.41 L61.70 374.41 L62.20 374.41 L62.70 374.41 L63.20 374.41 L63.70 374.41 L64.20 374.41 L64.70 374.41 L65.20 374.41 L65.70 374.41 L66.20 374.41 L66.70 374.41 L67.20 374.41 L67.70 374.41 L68.20 374.41 L68.70 374.41 L69.20 374.41 L69.70 374.41 L70.20 374.41 L70.70 374.41 L71.20 374.41 L71.70 374.41 L72.20 374.41 L72.70 374.41 L73.20 374.41 L73.70 374.42 L74.20 374.42 L74.70 374.42 L75.20 374.42 L75.70 374.42 L76.20 374.42 L76.70 374.42 L77.20 374.42 L77.70 374.42 L78.20 374.42 L78.70 374.42 L79.20 374.42 L79.70 374.42 L80.20 374.42 L80.70 374.43 L81.20 374.43 L81.70 374.43 L82.20 374.43 L82.70 374.43 L83.20 374.43 L83.70 374.43 L84.20 374.43 L84.70 374.43 L85.20 374.44 L85.70 374.44 L86.20 374.44 L86.70 374.44 L87.20 374.44 L87.70 374.44 L88.20 374.45 L88.70 374.45 L89.20 374.45 L89.70 374.45 L90.20 374.45 L90.70 374.46 L91.20 374.46 L91.70 374.46 L92.20 374.46 L92.70 374.47 L93.20 374.47 L93.70 374.47 L94.20 374.48 L94.70 374.48 L95.20 374.48 L95.70 374.49 L96.20 374.49 L96.70 374.50 L97.20 374.50 L97.70 374.50 L98.20 374.51 L98.70 374.51 L99.20 374.52 L99.70 374.52 L100.20 374.53 L100.70 374.53 L101.20 374.54 L101.70 374.55 L102.20 374.55 L102.70 374.56 L103.20 374.57 L103.70 374.57 L104.20 374.58 L104.70 374.59 L105.20 374.60 L105.70 374.60 L106.20 374.61 L106.70 374.62 L107.20 374.63 L107.70 374.64 L108.20 374.65 L108.70 374.66 L109.20 374.67 L109.70 374.68 L110.20 374.69 L110.70 374.70 L111.20 374.72 L111.70 374.73 L112.20 374.74 L112.70 374.75 L113.20 374.77 L113.70 374.78 L114.20 374.79 L114.70 374.81 L115.20 374.82 L115.70 374.84 L116.20 374.85 L116.70 374.87 L117.20 374.89 L117.70 374.90 L118.20 374.92 L118.70 374.94 L119.20 374.96 L119.70 374.98 L120.20 375.00 L120.70 375.02 L121.20 375.04 L121.70 375.06 L122.20 375.08 L122.70 375.10 L123.20 375.12 L123.70 375.14 L124.20 375.17 L124.70 375.19 L125.20 375.21 L125.70 375.24 L126.20 375.26 L126.70 375.29 L127.20 375.31 L127.70 375.34 L128.20 375.37 L128.70 375.39 L129.20 375.42 L129.70 375.45 L130.20 375.48 L130.70 375.50 L131.20 375.53 L131.70 375.56 L132.20 375.59 L132.70 375.62 L133.20 375.65 L133.70 375.68 L134.20 375.71 L134.70 375.74 L135.20 375.78 L135.70 375.81 L136.20 375.84 L136.70 375.87 L137.20 375.91 L137.70 375.94 L138.20 375.97 L138.70 376.01 L139.20 376.04 L139.70 376.07 L140.20 376.11 L140.70 376.14 L141.20 376.18 L141.70 376.21 L142.20 376.24 L142.70 376.28 L143.20 376.31 L143.70 376.35 L144.20 376.38 L144.70 376.42 L145.20 376.45 L145.70 376.49 L146.20 376.52 L146.70 376.56 L147.20 376.59 L147.70 376.63 L148.20 376.66 L148.70 376.70 L149.20 376.73 L149.70 376.77 L150.20 376.80 L150.70 376.83 L151.20 376.87 L151.70 376.90 L152.20 376.93 L152.70 376.97 L153.20 377.00 L153.70 377.03 L154.20 377.07 L154.70 377.10 L155.20 377.13 L155.70 377.16 L156.20 377.19 L156.70 377.22 L157.20 377.25 L157.70 377.28 L158.20 377.31 L158.70 377.34 L159.20 377.37 L159.70 377.40 L160.20 377.43 L160.70 377.46 L161.20 377.49 L161.70 377.51 L162.20 377.54 L162.70 377.57 L163.20 377.59 L163.70 377.62 L164.20 377.64 L164.70 377.67 L165.20 377.69 L165.70 377.71 L166.20 377.74 L166.70 377.76 L167.20 377.78 L167.70 377.80 L168.20 377.83 L168.70 377.85 L169.20 377.87 L169.70 377.89 L170.20 377.91 L170.70 377.93 L171.20 377.94 L171.70 377.96 L172.20 377.98 L172.70 378.00 L173.20 378.02 L173.70 378.03 L174.20 378.05 L174.70 378.06 L175.20 378.08 L175.70 378.09 L176.20 378.11 L176.70 378.12 L177.20 378.14 L177.70 378.15 L178.20 378.16 L178.70 378.17 L179.20 378.19 L179.70 378.20 L180.20 378.21 L180.70 378.22 L181.20 378.23 L181.70 378.24 L182.20 378.25 L182.70 378.26 L183.20 378.27 L183.70 378.28 L184.20 378.29 L184.70 378.30 L185.20 378.31 L185.70 378.31 L186.20 378.32 L186.70 378.33 L187.20 378.33 L187.70 378.34 L188.20 378.35 L188.70 378.35 L189.20 378.36 L189.70 378.37 L190.20 378.37 L190.70 378.38 L191.20 378.38 L191.70 378.39 L192.20 378.39 L192.70 378.40 L193.20 378.40 L193.70 378.40 L194.20 378.41 L194.70 378.41 L195.20 378.42 L195.70 378.42 L196.20 378.42 L196.70 378.43 L197.20 378.43 L197.70 378.43 L198.20 378.44 L198.70 378.44 L199.20 378.44 L199.70 378.44 L200.20 378.45 L200.70 378.45 L201.20 378.45 L201.70 378.45 L202.20 378.45 L202.70 378.46 L203.20 378.46 L203.70 378.46 L204.20 378.46 L204.70 378.46 L205.20 378.46 L205.70 378.47 L206.20 378.47 L206.70 378.47 L207.20 378.47 L207.70 378.47 L208.20 378.47 L208.70 378.47 L209.20 378.47 L209.70 378.47 L210.20 378.48 L210.70 378.48 L211.20 378.48 L211.70 378.48 L212.20 378.48 L212.70 378.48 L213.20 378.48 L213.70 378.48 L214.20 378.48 L214.70 378.48 L215.20 378.48 L215.70 378.48 L216.20 378.48 L216.70 378.48 L217.20 378.48 L217.70 378.49 L218.20 378.49 L218.70 378.49 L219.20 378.49 L219.70 378.49 L220.20 378.49 L220.70 378.49 L221.20 378.49 L221.70 378.49 L222.20 378.49 L222.70 378.49 L223.20 378.49 L223.70 378.49 L224.20 378.49 L224.70 378.49 L225.20 378.49 L225.70 378.49 L226.20 378.49 L226.70 378.49 L227.20 378.49 L227.70 378.49 L228.20 378.49 L228.70 378.49 L229.20 378.49 L229.70 378.49 L230.20 378.49 L230.70 378.49 L231.20 378.49 L231.70 378.49 L232.20 378.49 L232.70 378.49 L233.20 378.49 L233.70 378.49 L234.20 378.49 L234.70 378.49 L235.20 378.49 L235.70 378.49 L236.20 378.49 L236.70 378.49 L237.20 378.50 L237.70 378.50 L238.20 378.50 L238.70 378.50 L239.20 378.50 L239.70 378.50 L240.20 378.50 L240.70 378.50 L241.20 378.50 L241.70 378.50 L242.20 378.50 L242.70 378.50 L243.20 378.50 L243.70 378.50 L244.20 378.50 L244.70 378.50 L245.20 378.50 L245.70 378.50 L246.20 378.50 L246.70 378.50 L247.20 378.50 L247.70 378.50 L248.20 378.50 L248.70 378.50 L249.20 378.50 L249.70 378.50 L250.20 378.50 L250.70 378.50 L251.20 378.50 L251.70 378.50 L252.20 378.50 L252.70 378.50 L253.20 378.50 L253.70 378.50 L254.20 378.50 L254.70 378.50 L255.20 378.50 L255.70 378.50 L256.20 378.50 L256.70 378.50 L257.20 378.50 L257.70 378.50" fill="none" stroke="#a474e6" stroke-width="1.2"/>
<g fill="#fbfbf8" stroke="#4a4a4a" stroke-width="0.85"><circle cx="36.15" cy="373.75" r="2.15"/><circle cx="40.18" cy="373.20" r="2.15"/><circle cx="44.21" cy="373.07" r="2.15"/><circle cx="48.24" cy="372.96" r="2.15"/><circle cx="52.27" cy="372.69" r="2.15"/><circle cx="56.30" cy="372.09" r="2.15"/><circle cx="60.33" cy="371.21" r="2.15"/><circle cx="64.36" cy="370.39" r="2.15"/><circle cx="68.39" cy="369.61" r="2.15"/><circle cx="72.42" cy="368.44" r="2.15"/><circle cx="76.45" cy="366.25" r="2.15"/><circle cx="80.48" cy="365.12" r="2.15"/><circle cx="84.51" cy="363.73" r="2.15"/><circle cx="88.54" cy="361.65" r="2.15"/><circle cx="92.57" cy="360.52" r="2.15"/><circle cx="96.60" cy="358.09" r="2.15"/><circle cx="100.63" cy="356.10" r="2.15"/><circle cx="104.66" cy="353.22" r="2.15"/><circle cx="108.69" cy="349.80" r="2.15"/><circle cx="112.72" cy="345.48" r="2.15"/><circle cx="116.75" cy="340.92" r="2.15"/><circle cx="120.78" cy="336.04" r="2.15"/><circle cx="124.81" cy="330.86" r="2.15"/><circle cx="128.84" cy="326.22" r="2.15"/><circle cx="132.87" cy="321.93" r="2.15"/><circle cx="136.90" cy="318.80" r="2.15"/><circle cx="140.93" cy="316.73" r="2.15"/><circle cx="144.96" cy="317.03" r="2.15"/><circle cx="148.99" cy="318.59" r="2.15"/><circle cx="153.02" cy="321.60" r="2.15"/><circle cx="157.05" cy="326.46" r="2.15"/><circle cx="161.08" cy="331.91" r="2.15"/><circle cx="165.11" cy="337.69" r="2.15"/><circle cx="169.14" cy="343.69" r="2.15"/><circle cx="173.17" cy="349.91" r="2.15"/><circle cx="177.20" cy="355.23" r="2.15"/><circle cx="181.23" cy="360.19" r="2.15"/><circle cx="185.26" cy="364.61" r="2.15"/><circle cx="189.29" cy="367.81" r="2.15"/><circle cx="193.32" cy="370.78" r="2.15"/><circle cx="197.35" cy="372.90" r="2.15"/><circle cx="201.38" cy="374.09" r="2.15"/><circle cx="205.41" cy="375.60" r="2.15"/><circle cx="209.44" cy="375.97" r="2.15"/><circle cx="213.47" cy="376.99" r="2.15"/><circle cx="217.50" cy="377.33" r="2.15"/><circle cx="221.53" cy="377.35" r="2.15"/><circle cx="225.56" cy="377.17" r="2.15"/><circle cx="229.59" cy="377.57" r="2.15"/><circle cx="233.62" cy="377.53" r="2.15"/><circle cx="237.65" cy="377.97" r="2.15"/><circle cx="241.68" cy="377.43" r="2.15"/><circle cx="245.71" cy="377.95" r="2.15"/><circle cx="249.74" cy="378.07" r="2.15"/><circle cx="253.77" cy="377.90" r="2.15"/><circle cx="257.80" cy="377.97" r="2.15"/></g>
<path d="M36.20 374.12 L36.70 374.11 L37.20 374.10 L37.70 374.09 L38.20 374.07 L38.70 374.06 L39.20 374.05 L39.70 374.03 L40.20 374.02 L40.70 374.00 L41.20 373.99 L41.70 373.97 L42.20 373.95 L42.70 373.93 L43.20 373.91 L43.70 373.89 L44.20 373.87 L44.70 373.84 L45.20 373.82 L45.70 373.79 L46.20 373.76 L46.70 373.73 L47.20 373.70 L47.70 373.67 L48.20 373.63 L48.70 373.60 L49.20 373.56 L49.70 373.52 L50.20 373.47 L50.70 373.43 L51.20 373.38 L51.70 373.33 L52.20 373.28 L52.70 373.23 L53.20 373.17 L53.70 373.11 L54.20 373.05 L54.70 372.98 L55.20 372.92 L55.70 372.84 L56.20 372.77 L56.70 372.70 L57.20 372.62 L57.70 372.53 L58.20 372.45 L58.70 372.36 L59.20 372.27 L59.70 372.17 L60.20 372.07 L60.70 371.97 L61.20 371.87 L61.70 371.76 L62.20 371.65 L62.70 371.53 L63.20 371.41 L63.70 371.29 L64.20 371.17 L64.70 371.04 L65.20 370.91 L65.70 370.77 L66.20 370.63 L66.70 370.49 L67.20 370.35 L67.70 370.20 L68.20 370.05 L68.70 369.90 L69.20 369.75 L69.70 369.59 L70.20 369.43 L70.70 369.27 L71.20 369.10 L71.70 368.93 L72.20 368.76 L72.70 368.59 L73.20 368.42 L73.70 368.25 L74.20 368.07 L74.70 367.89 L75.20 367.71 L75.70 367.53 L76.20 367.35 L76.70 367.17 L77.20 366.98 L77.70 366.80 L78.20 366.61 L78.70 366.43 L79.20 366.24 L79.70 366.05 L80.20 365.86 L80.70 365.68 L81.20 365.49 L81.70 365.30 L82.20 365.11 L82.70 364.92 L83.20 364.73 L83.70 364.53 L84.20 364.34 L84.70 364.15 L85.20 363.96 L85.70 363.76 L86.20 363.57 L86.70 363.37 L87.20 363.18 L87.70 362.98 L88.20 362.78 L88.70 362.58 L89.20 362.37 L89.70 362.17 L90.20 361.96 L90.70 361.75 L91.20 361.54 L91.70 361.33 L92.20 361.11 L92.70 360.89 L93.20 360.66 L93.70 360.43 L94.20 360.20 L94.70 359.96 L95.20 359.72 L95.70 359.47 L96.20 359.21 L96.70 358.95 L97.20 358.69 L97.70 358.42 L98.20 358.14 L98.70 357.85 L99.20 357.56 L99.70 357.26 L100.20 356.95 L100.70 356.63 L101.20 356.31 L101.70 355.97 L102.20 355.63 L102.70 355.28 L103.20 354.92 L103.70 354.55 L104.20 354.17 L104.70 353.78 L105.20 353.38 L105.70 352.98 L106.20 352.56 L106.70 352.13 L107.20 351.69 L107.70 351.24 L108.20 350.78 L108.70 350.32 L109.20 349.84 L109.70 349.35 L110.20 348.85 L110.70 348.34 L111.20 347.82 L111.70 347.30 L112.20 346.76 L112.70 346.22 L113.20 345.66 L113.70 345.10 L114.20 344.53 L114.70 343.95 L115.20 343.37 L115.70 342.78 L116.20 342.18 L116.70 341.57 L117.20 340.96 L117.70 340.35 L118.20 339.73 L118.70 339.11 L119.20 338.48 L119.70 337.85 L120.20 337.21 L120.70 336.58 L121.20 335.94 L121.70 335.31 L122.20 334.67 L122.70 334.03 L123.20 333.40 L123.70 332.77 L124.20 332.14 L124.70 331.51 L125.20 330.89 L125.70 330.27 L126.20 329.66 L126.70 329.05 L127.20 328.45 L127.70 327.86 L128.20 327.28 L128.70 326.71 L129.20 326.15 L129.70 325.60 L130.20 325.06 L130.70 324.53 L131.20 324.02 L131.70 323.52 L132.20 323.03 L132.70 322.56 L133.20 322.11 L133.70 321.67 L134.20 321.25 L134.70 320.85 L135.20 320.47 L135.70 320.11 L136.20 319.76 L136.70 319.44 L137.20 319.14 L137.70 318.86 L138.20 318.60 L138.70 318.37 L139.20 318.16 L139.70 317.97 L140.20 317.80 L140.70 317.67 L141.20 317.55 L141.70 317.46 L142.20 317.40 L142.70 317.36 L143.20 317.34 L143.70 317.36 L144.20 317.39 L144.70 317.46 L145.20 317.55 L145.70 317.67 L146.20 317.81 L146.70 317.98 L147.20 318.17 L147.70 318.39 L148.20 318.63 L148.70 318.90 L149.20 319.19 L149.70 319.51 L150.20 319.85 L150.70 320.22 L151.20 320.61 L151.70 321.02 L152.20 321.45 L152.70 321.91 L153.20 322.38 L153.70 322.88 L154.20 323.40 L154.70 323.93 L155.20 324.48 L155.70 325.06 L156.20 325.64 L156.70 326.25 L157.20 326.87 L157.70 327.51 L158.20 328.16 L158.70 328.82 L159.20 329.50 L159.70 330.19 L160.20 330.88 L160.70 331.59 L161.20 332.31 L161.70 333.04 L162.20 333.78 L162.70 334.52 L163.20 335.27 L163.70 336.03 L164.20 336.79 L164.70 337.55 L165.20 338.32 L165.70 339.09 L166.20 339.87 L166.70 340.64 L167.20 341.42 L167.70 342.19 L168.20 342.97 L168.70 343.74 L169.20 344.51 L169.70 345.28 L170.20 346.04 L170.70 346.80 L171.20 347.56 L171.70 348.31 L172.20 349.06 L172.70 349.80 L173.20 350.53 L173.70 351.25 L174.20 351.97 L174.70 352.68 L175.20 353.39 L175.70 354.08 L176.20 354.76 L176.70 355.44 L177.20 356.11 L177.70 356.76 L178.20 357.41 L178.70 358.04 L179.20 358.66 L179.70 359.28 L180.20 359.88 L180.70 360.47 L181.20 361.05 L181.70 361.62 L182.20 362.17 L182.70 362.72 L183.20 363.25 L183.70 363.77 L184.20 364.27 L184.70 364.77 L185.20 365.25 L185.70 365.73 L186.20 366.19 L186.70 366.63 L187.20 367.07 L187.70 367.50 L188.20 367.91 L188.70 368.31 L189.20 368.70 L189.70 369.08 L190.20 369.44 L190.70 369.80 L191.20 370.14 L191.70 370.48 L192.20 370.80 L192.70 371.11 L193.20 371.42 L193.70 371.71 L194.20 371.99 L194.70 372.26 L195.20 372.53 L195.70 372.78 L196.20 373.03 L196.70 373.26 L197.20 373.49 L197.70 373.71 L198.20 373.92 L198.70 374.12 L199.20 374.31 L199.70 374.50 L200.20 374.68 L200.70 374.85 L201.20 375.02 L201.70 375.17 L202.20 375.32 L202.70 375.47 L203.20 375.61 L203.70 375.74 L204.20 375.87 L204.70 375.99 L205.20 376.11 L205.70 376.22 L206.20 376.32 L206.70 376.42 L207.20 376.52 L207.70 376.61 L208.20 376.70 L208.70 376.78 L209.20 376.86 L209.70 376.94 L210.20 377.01 L210.70 377.08 L211.20 377.14 L211.70 377.20 L212.20 377.26 L212.70 377.32 L213.20 377.37 L213.70 377.42 L214.20 377.47 L214.70 377.51 L215.20 377.56 L215.70 377.60 L216.20 377.64 L216.70 377.67 L217.20 377.71 L217.70 377.74 L218.20 377.77 L218.70 377.80 L219.20 377.83 L219.70 377.85 L220.20 377.88 L220.70 377.90 L221.20 377.92 L221.70 377.95 L222.20 377.97 L222.70 377.98 L223.20 378.00 L223.70 378.02 L224.20 378.03 L224.70 378.05 L225.20 378.06 L225.70 378.08 L226.20 378.09 L226.70 378.10 L227.20 378.11 L227.70 378.12 L228.20 378.13 L228.70 378.14 L229.20 378.15 L229.70 378.16 L230.20 378.17 L230.70 378.18 L231.20 378.19 L231.70 378.19 L232.20 378.20 L232.70 378.21 L233.20 378.21 L233.70 378.22 L234.20 378.22 L234.70 378.23 L235.20 378.23 L235.70 378.24 L236.20 378.24 L236.70 378.25 L237.20 378.25 L237.70 378.26 L238.20 378.26 L238.70 378.26 L239.20 378.27 L239.70 378.27 L240.20 378.27 L240.70 378.28 L241.20 378.28 L241.70 378.28 L242.20 378.29 L242.70 378.29 L243.20 378.29 L243.70 378.29 L244.20 378.30 L244.70 378.30 L245.20 378.30 L245.70 378.30 L246.20 378.31 L246.70 378.31 L247.20 378.31 L247.70 378.31 L248.20 378.31 L248.70 378.32 L249.20 378.32 L249.70 378.32 L250.20 378.32 L250.70 378.32 L251.20 378.33 L251.70 378.33 L252.20 378.33 L252.70 378.33 L253.20 378.33 L253.70 378.33 L254.20 378.34 L254.70 378.34 L255.20 378.34 L255.70 378.34 L256.20 378.34 L256.70 378.34 L257.20 378.35 L257.70 378.35" fill="none" stroke="#dda11c" stroke-width="1.2"/>
<polyline points="77.6,281.5 77.6,325.6 85.6,325.6 85.6,369.5" fill="none" stroke="#3b82e0" stroke-width="0.9" stroke-dasharray="1.3 1.3"/>
<rect x="36.2" y="218.5" width="221.60000000000002" height="168.0" fill="none" stroke="#5a5a5a" stroke-width="1.5"/>
<line x1="35.5" y1="386.5" x2="258.5" y2="386.5" stroke="#262626" stroke-width="1.45"/>
<line x1="36.2" y1="302.4" x2="257.8" y2="302.4" stroke="#222" stroke-width="1.45"/>
<line x1="257.80" y1="386.5" x2="257.80" y2="389.1" stroke="#2b2b2b" stroke-width="1.1"/>
<line x1="237.65" y1="386.5" x2="237.65" y2="388.1" stroke="#2b2b2b" stroke-width="1.1"/>
<line x1="217.50" y1="386.5" x2="217.50" y2="389.1" stroke="#2b2b2b" stroke-width="1.1"/>
<line x1="197.35" y1="386.5" x2="197.35" y2="388.1" stroke="#2b2b2b" stroke-width="1.1"/>
<line x1="177.20" y1="386.5" x2="177.20" y2="389.1" stroke="#2b2b2b" stroke-width="1.1"/>
<line x1="157.05" y1="386.5" x2="157.05" y2="388.1" stroke="#2b2b2b" stroke-width="1.1"/>
<line x1="136.90" y1="386.5" x2="136.90" y2="389.1" stroke="#2b2b2b" stroke-width="1.1"/>
<line x1="116.75" y1="386.5" x2="116.75" y2="388.1" stroke="#2b2b2b" stroke-width="1.1"/>
<line x1="96.60" y1="386.5" x2="96.60" y2="389.1" stroke="#2b2b2b" stroke-width="1.1"/>
<line x1="76.45" y1="386.5" x2="76.45" y2="388.1" stroke="#2b2b2b" stroke-width="1.1"/>
<line x1="56.30" y1="386.5" x2="56.30" y2="389.1" stroke="#2b2b2b" stroke-width="1.1"/>
<line x1="36.15" y1="386.5" x2="36.15" y2="388.1" stroke="#2b2b2b" stroke-width="1.1"/>
<text x="56.3" y="401.2" font-size="12.5" text-anchor="middle" fill="#1a1a1a" >401</text>
<text x="96.6" y="401.2" font-size="12.5" text-anchor="middle" fill="#1a1a1a" >400</text>
<text x="136.9" y="401.2" font-size="12.5" text-anchor="middle" fill="#1a1a1a" >399</text>
<text x="177.2" y="401.2" font-size="12.5" text-anchor="middle" fill="#1a1a1a" >398</text>
<text x="217.5" y="401.2" font-size="12.5" text-anchor="middle" fill="#1a1a1a" >397</text>
<text x="257.8" y="401.2" font-size="12.5" text-anchor="middle" fill="#1a1a1a" >396</text>
<text x="96.2" y="413.8" font-size="12.7" text-anchor="start" fill="#1a1a1a" >Binding energy (eV)</text>
<text transform="translate(22.7 303.2) rotate(-90)" font-size="12.5" text-anchor="middle" fill="#1a1a1a">Intensity (a.u.)</text>
<text x="38.6" y="234.2" font-size="11" fill="#1a1a1a">CTF-NH<tspan font-size="7.7" dy="2.42">2</tspan><tspan dy="-2.42">-10-F</tspan></text>
<text x="39.2" y="320.1" font-size="11" fill="#1a1a1a">CTF-NH<tspan font-size="7.7" dy="2.42">2</tspan><tspan dy="-2.42">-10</tspan></text>
<text x="255.2" y="230.3" font-size="12.5" text-anchor="end" fill="#1a1a1a" >N 1s</text>
<text x="5.2" y="227.5" font-size="20" text-anchor="start" fill="#1a1a1a" >(c)</text>
<line x1="51" y1="259.3" x2="57.3" y2="259.3" stroke="#666" stroke-width="0.8"/>
<text x="58.4" y="262.2" font-size="8" font-weight="bold" fill="#111" stroke="#111" stroke-width="0.3">NH<tspan font-size="5.8" dy="1.6">2</tspan></text>
<line x1="62.80" y1="265.50" x2="66.60" y2="272.69" stroke="#111" stroke-width="1.3"/>
<polygon points="69.40,278.00 64.48,273.81 68.72,271.57" fill="#111"/>
<text x="69.2" y="272.1" font-size="8" text-anchor="start" fill="#3a3a3a" >400.5</text>
<text x="63.8" y="359.8" font-size="8" text-anchor="start" fill="#3a3a3a" >400.3</text>
<line x1="120.4" y1="263.9" x2="126.1" y2="263.9" stroke="#666" stroke-width="0.8"/>
<text x="127.8" y="266.9" font-size="8" text-anchor="start" fill="#111" font-weight="bold" stroke="#111" stroke-width="0.3">C≡N</text>
<line x1="131.70" y1="268.80" x2="128.13" y2="274.92" stroke="#111" stroke-width="1.3"/>
<polygon points="125.10,280.10 126.05,273.71 130.20,276.13" fill="#111"/>
<text x="177.4" y="238.9" font-size="8.2" text-anchor="start" fill="#111" font-weight="bold" stroke="#111" stroke-width="0.35">C=N<tspan dx="1.0">-</tspan><tspan dx="1.0">C</tspan></text>
<line x1="182.60" y1="241.50" x2="172.71" y2="247.13" stroke="#111" stroke-width="1.3"/>
<polygon points="167.50,250.10 171.53,245.05 173.90,249.22" fill="#111"/>
<path d="M318.00 225.90 L318.26 226.00 L318.59 226.12 L318.97 226.26 L319.39 226.42 L319.86 226.60 L320.35 226.78 L320.87 226.97 L321.40 227.16 L321.94 227.35 L322.47 227.53 L323.00 227.71 L323.51 227.86 L324.00 228.00 L324.47 228.12 L324.95 228.24 L325.43 228.35 L325.91 228.46 L326.39 228.56 L326.88 228.66 L327.36 228.75 L327.85 228.84 L328.34 228.92 L328.83 229.00 L329.32 229.07 L329.81 229.14 L330.30 229.20 L330.75 229.25 L331.18 229.30 L331.59 229.34 L332.01 229.37 L332.41 229.40 L332.83 229.43 L333.24 229.45 L333.67 229.47 L334.12 229.49 L334.59 229.51 L335.09 229.53 L335.62 229.55 L336.19 229.57 L336.80 229.60 L337.19 229.62 L337.61 229.63 L338.03 229.65 L338.48 229.67 L338.93 229.68 L339.40 229.70 L339.88 229.71 L340.37 229.73 L340.87 229.74 L341.37 229.76 L341.88 229.77 L342.40 229.79 L342.91 229.81 L343.43 229.82 L343.96 229.84 L344.48 229.86 L345.00 229.87 L345.51 229.89 L346.02 229.91 L346.53 229.93 L347.03 229.95 L347.52 229.98 L348.00 230.00 L348.49 230.03 L348.97 230.05 L349.44 230.08 L349.90 230.10 L350.35 230.13 L350.80 230.15 L351.25 230.18 L351.69 230.21 L352.14 230.24 L352.58 230.26 L353.03 230.29 L353.49 230.32 L353.95 230.36 L354.42 230.39 L354.90 230.42 L355.39 230.46 L355.90 230.49 L356.42 230.53 L356.96 230.57 L357.52 230.61 L358.10 230.66 L358.70 230.70 L359.12 230.73 L359.54 230.76 L359.98 230.79 L360.43 230.83 L360.88 230.86 L361.35 230.90 L361.83 230.93 L362.31 230.97 L362.80 231.00 L363.29 231.04 L363.80 231.08 L364.30 231.12 L364.81 231.15 L365.33 231.19 L365.85 231.23 L366.37 231.27 L366.89 231.31 L367.42 231.35 L367.94 231.40 L368.47 231.44 L368.99 231.48 L369.51 231.52 L370.04 231.56 L370.55 231.61 L371.07 231.65 L371.58 231.69 L372.09 231.74 L372.59 231.78 L373.09 231.82 L373.58 231.87 L374.06 231.91 L374.53 231.96 L375.00 232.00 L375.52 232.05 L376.05 232.10 L376.56 232.15 L377.08 232.21 L377.59 232.26 L378.10 232.31 L378.60 232.37 L379.11 232.43 L379.61 232.48 L380.11 232.54 L380.60 232.59 L381.10 232.65 L381.59 232.71 L382.08 232.77 L382.56 232.82 L383.05 232.88 L383.53 232.94 L384.01 232.99 L384.49 233.05 L384.97 233.11 L385.44 233.16 L385.92 233.22 L386.39 233.28 L386.86 233.33 L387.33 233.39 L387.80 233.44 L388.27 233.49 L388.73 233.55 L389.20 233.60 L389.72 233.66 L390.23 233.71 L390.75 233.77 L391.26 233.83 L391.77 233.88 L392.28 233.94 L392.79 234.00 L393.29 234.05 L393.79 234.11 L394.29 234.16 L394.79 234.22 L395.29 234.27 L395.78 234.32 L396.27 234.38 L396.76 234.43 L397.25 234.49 L397.74 234.54 L398.22 234.59 L398.70 234.64 L399.18 234.69 L399.65 234.75 L400.13 234.80 L400.60 234.85 L401.07 234.90 L401.54 234.95 L402.00 235.00 L402.52 235.06 L403.04 235.11 L403.54 235.16 L404.05 235.22 L404.55 235.27 L405.04 235.32 L405.54 235.37 L406.03 235.42 L406.51 235.47 L407.00 235.52 L407.48 235.57 L407.96 235.63 L408.44 235.68 L408.92 235.73 L409.40 235.78 L409.88 235.83 L410.36 235.88 L410.84 235.93 L411.33 235.98 L411.82 236.04 L412.31 236.09 L412.80 236.14 L413.30 236.20 L413.78 236.25 L414.27 236.31 L414.75 236.36 L415.25 236.42 L415.74 236.47 L416.23 236.52 L416.73 236.58 L417.23 236.63 L417.73 236.69 L418.23 236.74 L418.73 236.80 L419.23 236.86 L419.72 236.91 L420.22 236.97 L420.71 237.03 L421.20 237.09 L421.69 237.15 L422.18 237.21 L422.66 237.27 L423.14 237.34 L423.61 237.40 L424.08 237.47 L424.54 237.53 L425.00 237.60 L425.52 237.68 L426.05 237.76 L426.57 237.85 L427.10 237.94 L427.63 238.02 L428.16 238.12 L428.68 238.21 L429.20 238.30 L429.72 238.40 L430.23 238.49 L430.73 238.59 L431.23 238.68 L431.71 238.78 L432.19 238.87 L432.65 238.96 L433.10 239.06 L433.53 239.15 L433.95 239.24 L434.35 239.33 L434.74 239.42 L435.10 239.50 L435.78 239.67 L436.36 239.82 L436.86 239.97 L437.29 240.11 L437.69 240.25 L438.07 240.40 L438.46 240.55 L438.88 240.71 L439.35 240.90 L439.90 241.10 L440.31 241.25 L440.73 241.41 L441.16 241.58 L441.61 241.75 L442.07 241.93 L442.54 242.12 L443.02 242.31 L443.51 242.50 L444.00 242.70 L444.50 242.89 L445.00 243.08 L445.50 243.27 L446.00 243.45 L446.50 243.63 L447.00 243.80 L447.47 243.96 L447.95 244.11 L448.44 244.27 L448.94 244.42 L449.44 244.58 L449.94 244.73 L450.45 244.88 L450.96 245.03 L451.46 245.17 L451.96 245.31 L452.46 245.45 L452.95 245.59 L453.43 245.72 L453.90 245.85 L454.36 245.98 L454.80 246.10 L455.32 246.24 L455.81 246.38 L456.28 246.51 L456.73 246.63 L457.17 246.75 L457.61 246.86 L458.04 246.97 L458.48 247.08 L458.94 247.19 L459.41 247.29 L459.91 247.39 L460.44 247.50 L461.00 247.60 L461.41 247.67 L461.82 247.74 L462.25 247.80 L462.70 247.87 L463.15 247.93 L463.60 247.99 L464.07 248.05 L464.55 248.11 L465.03 248.16 L465.51 248.22 L466.00 248.28 L466.50 248.34 L467.00 248.40 L467.50 248.46 L468.00 248.53 L468.50 248.59 L469.00 248.66 L469.50 248.73 L470.00 248.80 L470.48 248.87 L470.96 248.94 L471.44 249.01 L471.93 249.08 L472.42 249.14 L472.92 249.21 L473.41 249.28 L473.91 249.35 L474.42 249.43 L474.92 249.50 L475.42 249.58 L475.93 249.65 L476.43 249.74 L476.93 249.82 L477.43 249.91 L477.93 250.00 L478.43 250.09 L478.92 250.19 L479.41 250.29 L479.90 250.40 L480.38 250.51 L480.87 250.62 L481.35 250.73 L481.83 250.84 L482.31 250.95 L482.78 251.06 L483.26 251.18 L483.73 251.29 L484.21 251.42 L484.68 251.54 L485.15 251.68 L485.63 251.81 L486.10 251.96 L486.57 252.11 L487.04 252.27 L487.51 252.44 L487.98 252.61 L488.46 252.80 L488.93 252.99 L489.40 253.20 L489.90 253.43 L490.39 253.66 L490.89 253.90 L491.38 254.14 L491.88 254.40 L492.37 254.66 L492.87 254.92 L493.36 255.20 L493.85 255.49 L494.35 255.78 L494.84 256.08 L495.33 256.40 L495.83 256.72 L496.32 257.05 L496.82 257.40 L497.31 257.76 L497.81 258.13 L498.30 258.51 L498.80 258.90 L499.27 259.28 L499.75 259.67 L500.22 260.07 L500.70 260.47 L501.17 260.88 L501.65 261.29 L502.12 261.72 L502.60 262.16 L503.07 262.60 L503.55 263.06 L504.03 263.53 L504.50 264.01 L504.98 264.51 L505.45 265.02 L505.93 265.54 L506.40 266.08 L506.88 266.64 L507.35 267.21 L507.83 267.79 L508.30 268.40 L508.80 269.06 L509.30 269.76 L509.81 270.49 L510.32 271.24 L510.83 272.02 L511.34 272.82 L511.85 273.63 L512.36 274.46 L512.87 275.30 L513.37 276.14 L513.87 276.99 L514.37 277.84 L514.87 278.68 L515.36 279.52 L515.84 280.35 L516.32 281.16 L516.79 281.96 L517.25 282.74 L517.70 283.50 L518.23 284.38 L518.75 285.27 L519.26 286.15 L519.77 287.02 L520.27 287.89 L520.77 288.75 L521.25 289.61 L521.73 290.45 L522.20 291.28 L522.67 292.10 L523.13 292.91 L523.58 293.70 L524.02 294.48 L524.45 295.24 L524.88 295.98 L525.30 296.70 L525.84 297.64 L526.36 298.55 L526.86 299.45 L527.34 300.32 L527.81 301.16 L528.27 301.98 L528.73 302.77 L529.18 303.53 L529.63 304.25 L530.08 304.94 L530.53 305.59 L531.00 306.20 L531.47 306.77 L531.95 307.29 L532.44 307.78 L532.92 308.23 L533.40 308.64 L533.88 309.02 L534.36 309.38 L534.83 309.72 L535.29 310.03 L535.74 310.33 L536.18 310.62 L536.60 310.90 L537.17 311.24 L537.74 311.55 L538.32 311.81 L538.88 312.04 L539.41 312.24 L539.90 312.41 L540.34 312.56 L540.71 312.69 L541.00 312.80" fill="none" stroke="#a0d77f" stroke-width="1.4" stroke-linejoin="round"/>
<path d="M318.00 225.50 L318.25 225.54 L318.55 225.59 L318.88 225.65 L319.24 225.71 L319.64 225.79 L320.07 225.86 L320.52 225.94 L321.01 226.02 L321.52 226.11 L322.05 226.19 L322.61 226.28 L323.18 226.36 L323.77 226.44 L324.38 226.52 L325.00 226.60 L325.39 226.65 L325.78 226.69 L326.18 226.74 L326.57 226.79 L326.97 226.84 L327.38 226.89 L327.79 226.94 L328.20 226.99 L328.63 227.04 L329.06 227.09 L329.51 227.14 L329.97 227.19 L330.44 227.24 L330.92 227.29 L331.42 227.34 L331.94 227.39 L332.47 227.43 L333.03 227.47 L333.60 227.52 L334.19 227.56 L334.81 227.60 L335.45 227.63 L336.11 227.67 L336.80 227.70 L337.19 227.72 L337.59 227.73 L338.01 227.75 L338.43 227.76 L338.87 227.78 L339.32 227.79 L339.78 227.81 L340.24 227.82 L340.72 227.83 L341.20 227.84 L341.70 227.86 L342.20 227.87 L342.70 227.88 L343.21 227.89 L343.73 227.90 L344.26 227.91 L344.78 227.92 L345.31 227.93 L345.85 227.94 L346.39 227.95 L346.93 227.95 L347.47 227.96 L348.01 227.97 L348.55 227.98 L349.10 227.99 L349.64 227.99 L350.18 228.00 L350.72 228.01 L351.26 228.01 L351.80 228.02 L352.33 228.03 L352.86 228.03 L353.38 228.04 L353.90 228.04 L354.41 228.05 L354.92 228.05 L355.42 228.06 L355.92 228.07 L356.40 228.07 L356.88 228.08 L357.35 228.08 L357.81 228.09 L358.26 228.09 L358.70 228.10 L359.27 228.11 L359.84 228.11 L360.40 228.12 L360.95 228.12 L361.50 228.13 L362.03 228.13 L362.56 228.14 L363.09 228.14 L363.61 228.14 L364.12 228.15 L364.63 228.15 L365.13 228.15 L365.63 228.15 L366.12 228.15 L366.61 228.15 L367.09 228.16 L367.57 228.16 L368.05 228.16 L368.52 228.16 L368.99 228.16 L369.46 228.16 L369.93 228.16 L370.39 228.16 L370.86 228.17 L371.32 228.17 L371.78 228.17 L372.24 228.17 L372.70 228.18 L373.16 228.18 L373.62 228.18 L374.08 228.19 L374.54 228.19 L375.00 228.20 L375.53 228.21 L376.06 228.21 L376.59 228.22 L377.13 228.23 L377.66 228.23 L378.20 228.24 L378.74 228.25 L379.27 228.25 L379.81 228.26 L380.34 228.27 L380.87 228.28 L381.40 228.28 L381.92 228.29 L382.44 228.30 L382.95 228.31 L383.46 228.32 L383.96 228.33 L384.45 228.34 L384.93 228.35 L385.41 228.36 L385.88 228.38 L386.33 228.39 L386.78 228.40 L387.21 228.42 L387.64 228.43 L388.05 228.45 L388.45 228.46 L388.83 228.48 L389.20 228.50 L389.91 228.54 L390.56 228.58 L391.16 228.61 L391.70 228.65 L392.20 228.70 L392.66 228.74 L393.09 228.79 L393.51 228.84 L393.91 228.90 L394.31 228.96 L394.71 229.03 L395.12 229.11 L395.55 229.20 L396.00 229.30 L396.51 229.42 L397.02 229.54 L397.53 229.67 L398.04 229.81 L398.55 229.96 L399.05 230.11 L399.55 230.28 L400.04 230.45 L400.52 230.62 L400.99 230.81 L401.44 231.00 L401.88 231.20 L402.30 231.40 L402.87 231.71 L403.41 232.03 L403.91 232.37 L404.39 232.72 L404.85 233.09 L405.30 233.47 L405.76 233.86 L406.22 234.27 L406.70 234.70 L407.19 235.14 L407.68 235.59 L408.17 236.05 L408.66 236.52 L409.15 237.02 L409.64 237.53 L410.13 238.06 L410.62 238.62 L411.10 239.20 L411.58 239.83 L412.06 240.52 L412.54 241.24 L413.01 241.99 L413.49 242.74 L413.96 243.48 L414.44 244.18 L414.92 244.82 L415.40 245.40 L415.88 245.91 L416.37 246.38 L416.86 246.81 L417.35 247.20 L417.84 247.57 L418.33 247.90 L418.82 248.22 L419.31 248.52 L419.80 248.80 L420.25 249.06 L420.65 249.27 L421.03 249.46 L421.40 249.63 L421.80 249.78 L422.25 249.93 L422.79 250.07 L423.43 250.23 L424.20 250.40 L424.55 250.47 L424.91 250.54 L425.29 250.61 L425.67 250.67 L426.06 250.73 L426.47 250.79 L426.88 250.85 L427.31 250.91 L427.76 250.97 L428.22 251.04 L428.69 251.10 L429.18 251.17 L429.69 251.24 L430.21 251.31 L430.76 251.39 L431.32 251.47 L431.90 251.56 L432.49 251.65 L433.11 251.75 L433.75 251.86 L434.42 251.98 L435.10 252.10 L435.49 252.17 L435.90 252.25 L436.33 252.33 L436.77 252.42 L437.23 252.51 L437.71 252.61 L438.19 252.70 L438.69 252.81 L439.20 252.91 L439.72 253.02 L440.25 253.12 L440.79 253.23 L441.33 253.35 L441.88 253.46 L442.44 253.58 L442.99 253.69 L443.56 253.81 L444.12 253.93 L444.68 254.04 L445.24 254.16 L445.81 254.28 L446.36 254.40 L446.92 254.51 L447.47 254.63 L448.01 254.74 L448.55 254.85 L449.08 254.96 L449.61 255.07 L450.12 255.18 L450.62 255.28 L451.11 255.38 L451.58 255.47 L452.05 255.57 L452.49 255.66 L452.92 255.74 L453.34 255.82 L453.73 255.90 L454.11 255.97 L454.47 256.04 L454.80 256.10 L455.68 256.25 L456.37 256.36 L456.89 256.43 L457.29 256.46 L457.59 256.48 L457.84 256.48 L458.06 256.47 L458.30 256.47 L458.60 256.48 L458.98 256.51 L459.48 256.57 L460.14 256.66 L461.00 256.80 L461.34 256.86 L461.71 256.92 L462.09 256.99 L462.50 257.06 L462.93 257.14 L463.37 257.22 L463.83 257.30 L464.31 257.39 L464.80 257.48 L465.31 257.57 L465.82 257.67 L466.35 257.77 L466.89 257.87 L467.43 257.97 L467.99 258.07 L468.54 258.18 L469.11 258.28 L469.67 258.39 L470.24 258.50 L470.81 258.61 L471.38 258.72 L471.95 258.83 L472.52 258.94 L473.08 259.04 L473.64 259.15 L474.19 259.26 L474.74 259.37 L475.27 259.47 L475.80 259.57 L476.32 259.68 L476.82 259.78 L477.31 259.87 L477.78 259.97 L478.24 260.06 L478.69 260.15 L479.11 260.24 L479.52 260.32 L479.90 260.40 L480.59 260.54 L481.23 260.67 L481.84 260.80 L482.40 260.91 L482.94 261.02 L483.44 261.13 L483.92 261.23 L484.38 261.33 L484.82 261.42 L485.24 261.52 L485.66 261.61 L486.06 261.71 L486.46 261.81 L486.85 261.92 L487.25 262.03 L487.66 262.15 L488.07 262.27 L488.50 262.40 L488.94 262.55 L489.40 262.70 L489.90 262.87 L490.39 263.03 L490.89 263.19 L491.38 263.36 L491.88 263.52 L492.37 263.69 L492.87 263.86 L493.36 264.04 L493.85 264.23 L494.35 264.42 L494.84 264.63 L495.33 264.84 L495.83 265.07 L496.32 265.32 L496.82 265.58 L497.31 265.85 L497.81 266.15 L498.30 266.46 L498.80 266.80 L499.27 267.14 L499.75 267.48 L500.22 267.85 L500.70 268.22 L501.17 268.60 L501.65 269.00 L502.12 269.41 L502.60 269.84 L503.07 270.27 L503.55 270.72 L504.03 271.18 L504.50 271.65 L504.98 272.14 L505.45 272.64 L505.93 273.15 L506.40 273.67 L506.88 274.21 L507.35 274.76 L507.83 275.32 L508.30 275.90 L508.80 276.53 L509.30 277.18 L509.81 277.87 L510.32 278.57 L510.83 279.30 L511.34 280.04 L511.85 280.80 L512.36 281.57 L512.87 282.35 L513.37 283.14 L513.87 283.93 L514.37 284.72 L514.87 285.52 L515.36 286.30 L515.84 287.09 L516.32 287.86 L516.79 288.62 L517.25 289.37 L517.70 290.10 L518.23 290.96 L518.75 291.84 L519.26 292.73 L519.77 293.62 L520.27 294.52 L520.77 295.41 L521.25 296.29 L521.73 297.17 L522.20 298.03 L522.67 298.87 L523.13 299.69 L523.58 300.48 L524.02 301.24 L524.45 301.97 L524.88 302.66 L525.30 303.30 L525.84 304.10 L526.36 304.83 L526.86 305.51 L527.34 306.14 L527.81 306.72 L528.27 307.27 L528.73 307.78 L529.18 308.26 L529.63 308.72 L530.08 309.16 L530.53 309.58 L531.00 310.00 L531.47 310.40 L531.95 310.77 L532.44 311.11 L532.92 311.42 L533.40 311.71 L533.88 311.98 L534.36 312.23 L534.83 312.47 L535.29 312.69 L535.74 312.90 L536.18 313.10 L536.60 313.30 L537.17 313.55 L537.74 313.77 L538.32 313.96 L538.88 314.13 L539.41 314.28 L539.90 314.41 L540.34 314.52 L540.71 314.62 L541.00 314.70" fill="none" stroke="#4e52b4" stroke-width="1.4" stroke-linejoin="round"/>
<rect x="317.9" y="218.3" width="223.10000000000002" height="165.89999999999998" fill="none" stroke="#2b2b2b" stroke-width="1.45"/>
<line x1="323.44" y1="384.2" x2="323.44" y2="385.8" stroke="#2b2b2b" stroke-width="1.1"/>
<line x1="338.97" y1="384.2" x2="338.97" y2="387.0" stroke="#2b2b2b" stroke-width="1.1"/>
<line x1="354.50" y1="384.2" x2="354.50" y2="385.8" stroke="#2b2b2b" stroke-width="1.1"/>
<line x1="370.04" y1="384.2" x2="370.04" y2="387.0" stroke="#2b2b2b" stroke-width="1.1"/>
<line x1="385.57" y1="384.2" x2="385.57" y2="385.8" stroke="#2b2b2b" stroke-width="1.1"/>
<line x1="401.11" y1="384.2" x2="401.11" y2="387.0" stroke="#2b2b2b" stroke-width="1.1"/>
<line x1="416.64" y1="384.2" x2="416.64" y2="385.8" stroke="#2b2b2b" stroke-width="1.1"/>
<line x1="432.18" y1="384.2" x2="432.18" y2="387.0" stroke="#2b2b2b" stroke-width="1.1"/>
<line x1="447.71" y1="384.2" x2="447.71" y2="385.8" stroke="#2b2b2b" stroke-width="1.1"/>
<line x1="463.25" y1="384.2" x2="463.25" y2="387.0" stroke="#2b2b2b" stroke-width="1.1"/>
<line x1="478.78" y1="384.2" x2="478.78" y2="385.8" stroke="#2b2b2b" stroke-width="1.1"/>
<line x1="494.32" y1="384.2" x2="494.32" y2="387.0" stroke="#2b2b2b" stroke-width="1.1"/>
<line x1="509.85" y1="384.2" x2="509.85" y2="385.8" stroke="#2b2b2b" stroke-width="1.1"/>
<line x1="525.39" y1="384.2" x2="525.39" y2="387.0" stroke="#2b2b2b" stroke-width="1.1"/>
<line x1="540.92" y1="384.2" x2="540.92" y2="385.8" stroke="#2b2b2b" stroke-width="1.1"/>
<line x1="317.9" y1="384.20" x2="315.09999999999997" y2="384.20" stroke="#2b2b2b" stroke-width="1.1"/>
<line x1="317.9" y1="368.30" x2="316.29999999999995" y2="368.30" stroke="#2b2b2b" stroke-width="1.1"/>
<line x1="317.9" y1="352.40" x2="315.09999999999997" y2="352.40" stroke="#2b2b2b" stroke-width="1.1"/>
<line x1="317.9" y1="336.50" x2="316.29999999999995" y2="336.50" stroke="#2b2b2b" stroke-width="1.1"/>
<line x1="317.9" y1="320.60" x2="315.09999999999997" y2="320.60" stroke="#2b2b2b" stroke-width="1.1"/>
<line x1="317.9" y1="304.70" x2="316.29999999999995" y2="304.70" stroke="#2b2b2b" stroke-width="1.1"/>
<line x1="317.9" y1="288.80" x2="315.09999999999997" y2="288.80" stroke="#2b2b2b" stroke-width="1.1"/>
<line x1="317.9" y1="272.90" x2="316.29999999999995" y2="272.90" stroke="#2b2b2b" stroke-width="1.1"/>
<line x1="317.9" y1="257.00" x2="315.09999999999997" y2="257.00" stroke="#2b2b2b" stroke-width="1.1"/>
<line x1="317.9" y1="241.10" x2="316.29999999999995" y2="241.10" stroke="#2b2b2b" stroke-width="1.1"/>
<line x1="317.9" y1="225.20" x2="315.09999999999997" y2="225.20" stroke="#2b2b2b" stroke-width="1.1"/>
<text x="338.97" y="399.5" font-size="13" text-anchor="middle" fill="#1a1a1a" >100</text>
<text x="370.04" y="399.5" font-size="13" text-anchor="middle" fill="#1a1a1a" >200</text>
<text x="401.11" y="399.5" font-size="13" text-anchor="middle" fill="#1a1a1a" >300</text>
<text x="432.18" y="399.5" font-size="13" text-anchor="middle" fill="#1a1a1a" >400</text>
<text x="463.25" y="399.5" font-size="13" text-anchor="middle" fill="#1a1a1a" >500</text>
<text x="494.32" y="399.5" font-size="13" text-anchor="middle" fill="#1a1a1a" >600</text>
<text x="525.39" y="399.5" font-size="13" text-anchor="middle" fill="#1a1a1a" >700</text>
<text x="313.0" y="388.8" font-size="13" text-anchor="end" fill="#1a1a1a" >0</text>
<text x="313.0" y="357.0" font-size="13" text-anchor="end" fill="#1a1a1a" >20</text>
<text x="313.0" y="325.2" font-size="13" text-anchor="end" fill="#1a1a1a" >40</text>
<text x="313.0" y="293.4" font-size="13" text-anchor="end" fill="#1a1a1a" >60</text>
<text x="313.0" y="261.6" font-size="13" text-anchor="end" fill="#1a1a1a" >80</text>
<text x="313.0" y="229.8" font-size="13" text-anchor="end" fill="#1a1a1a" >100</text>
<text x="379.5" y="414.9" font-size="13" text-anchor="start" fill="#1a1a1a" >Temperature (<tspan font-size="8.5" dy="-5">o</tspan><tspan dy="5">C)</tspan></text>
<text transform="translate(283.2 294.2) rotate(-90)" font-size="13" text-anchor="middle" fill="#1a1a1a">Residual weight (%)</text>
<line x1="332.7" y1="309.2" x2="354.9" y2="309.2" stroke="#a0d77f" stroke-width="1.4"/>
<line x1="332.7" y1="323.0" x2="354.9" y2="323.0" stroke="#4e52b4" stroke-width="1.4"/>
<text x="357.6" y="312.5" font-size="10.2" fill="#1a1a1a">CTF-NH<tspan font-size="7.1" dy="2.24">2</tspan><tspan dy="-2.24">-10</tspan></text>
<text x="357.6" y="326.7" font-size="10.2" fill="#1a1a1a">CTF-NH<tspan font-size="7.1" dy="2.24">2</tspan><tspan dy="-2.24">-10-F</tspan></text>
<text x="268.0" y="229.7" font-size="20" text-anchor="start" fill="#1a1a1a" >(d)</text>
</svg></body></html>
